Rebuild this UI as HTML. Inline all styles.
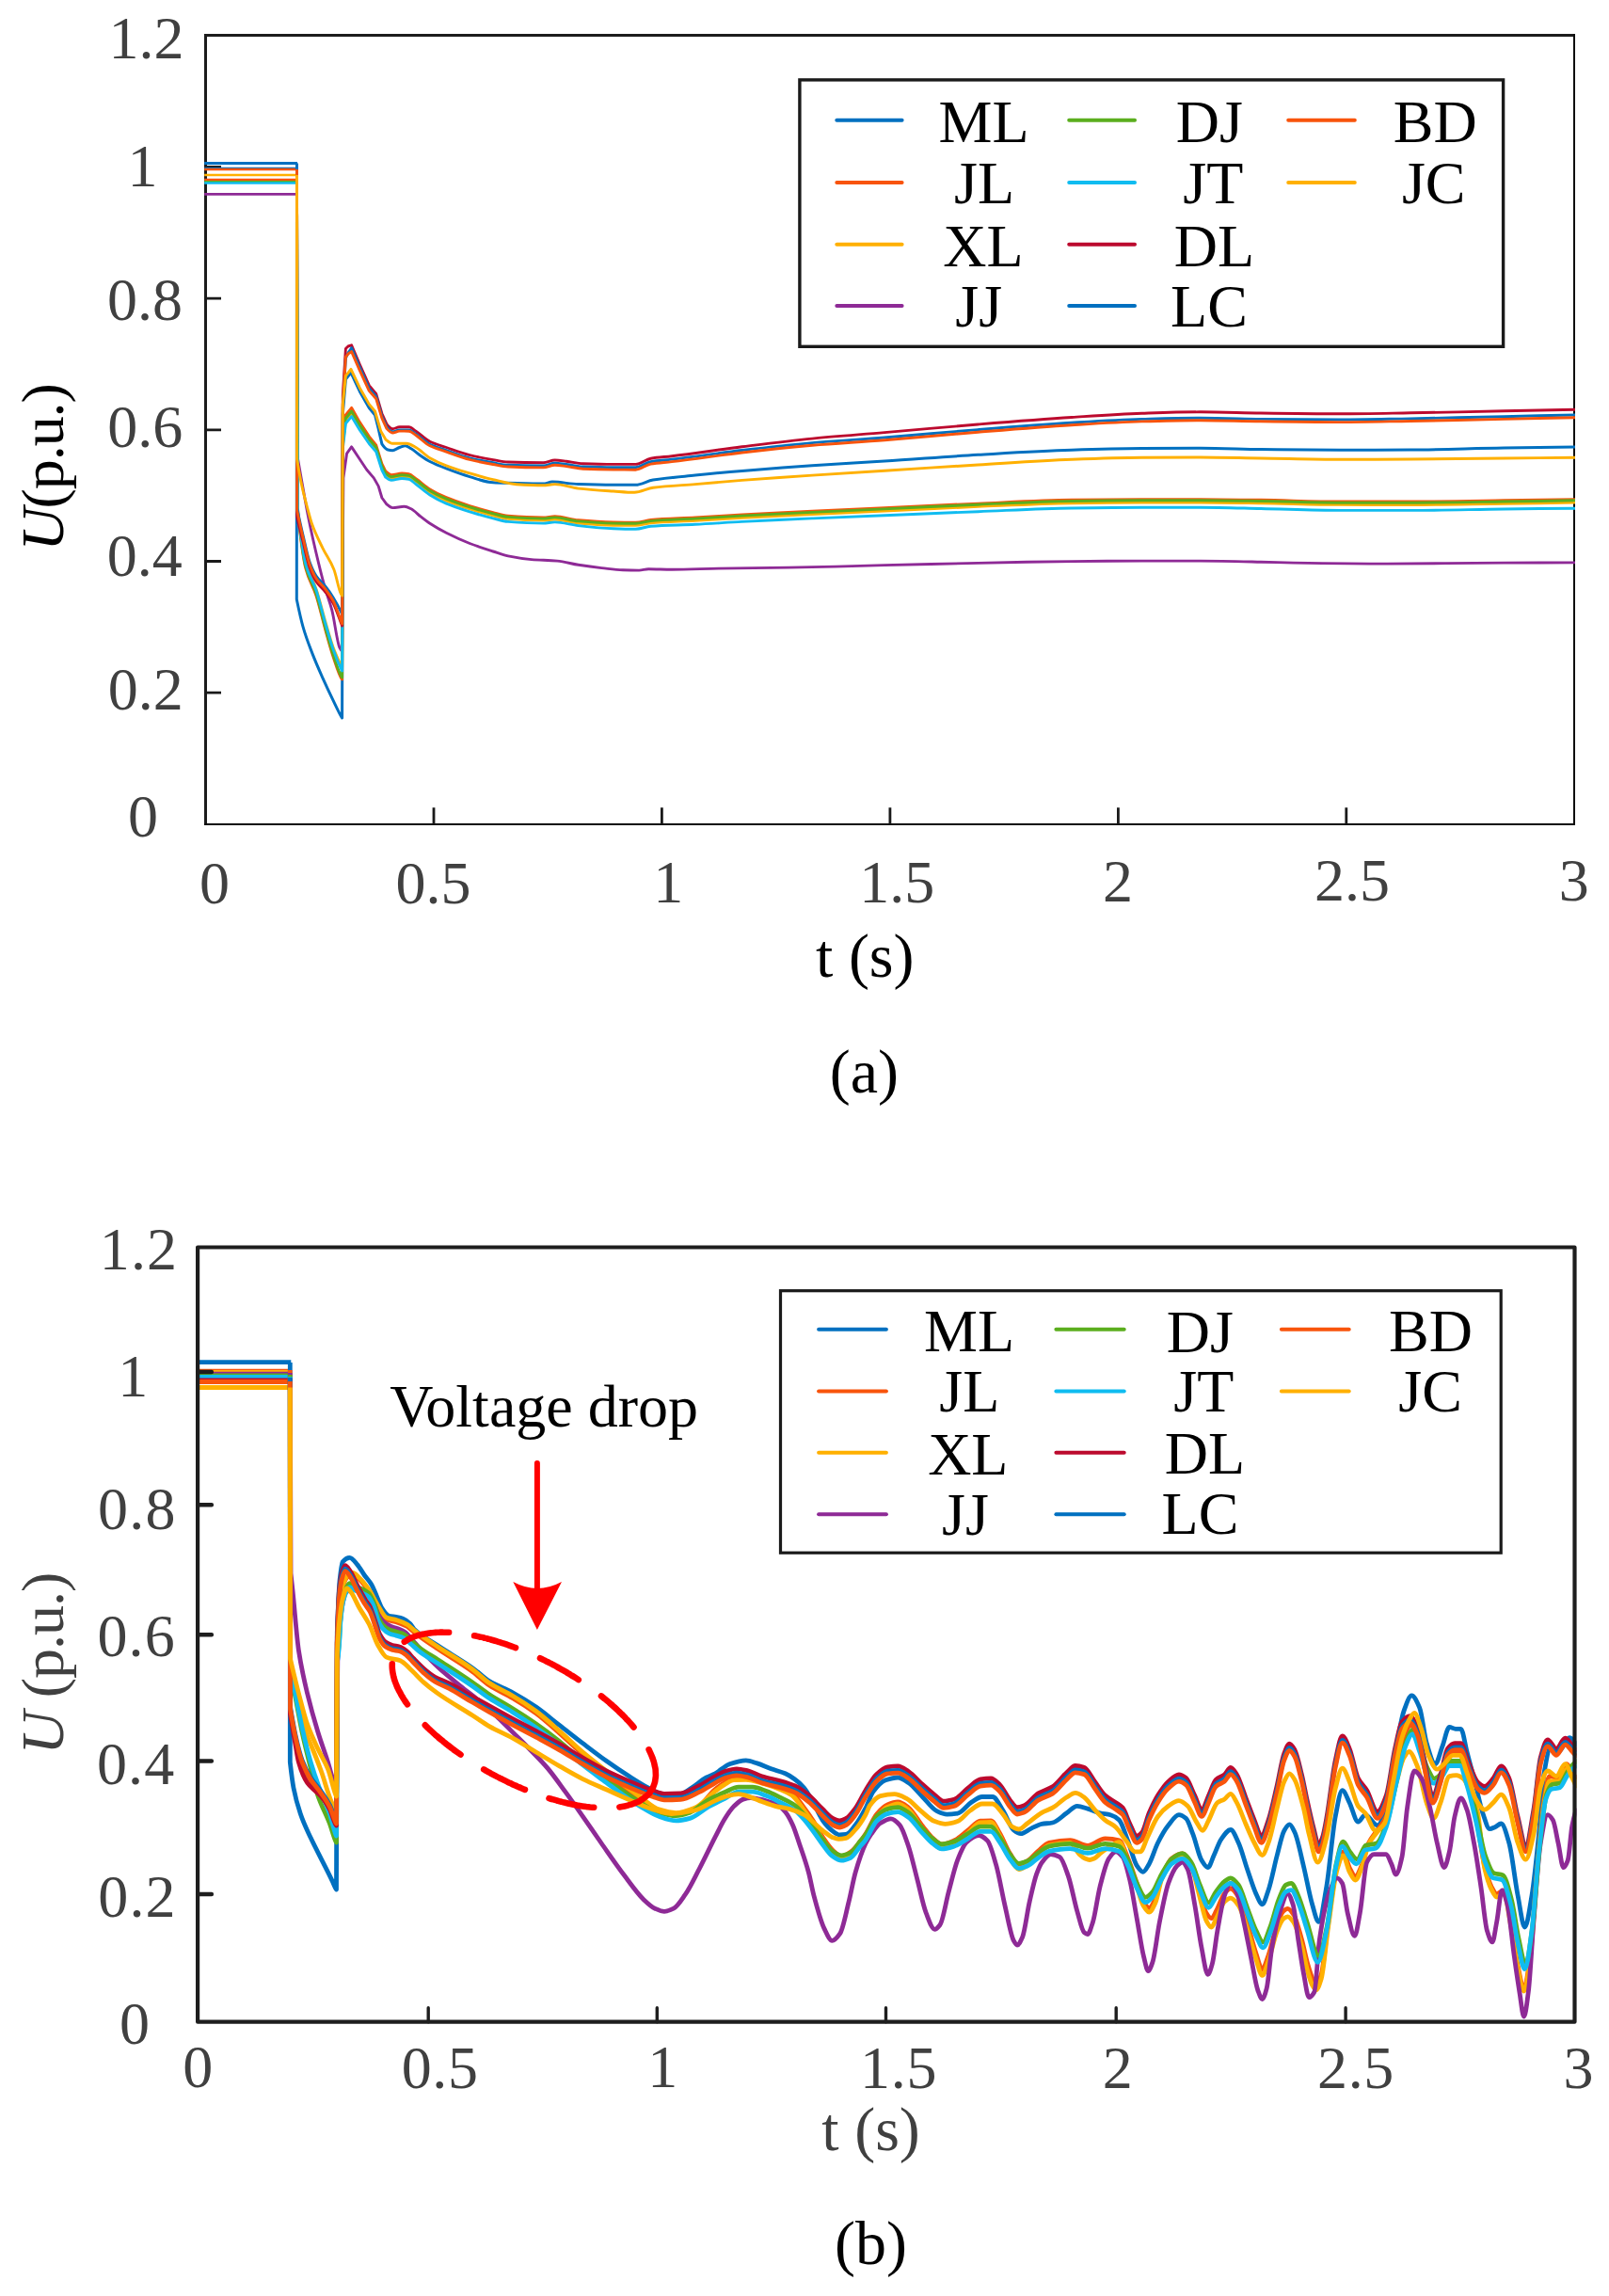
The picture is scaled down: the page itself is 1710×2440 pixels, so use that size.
<!DOCTYPE html>
<html lang="en"><head><meta charset="utf-8"><title>Voltage curves</title><style>html,body{margin:0;padding:0;background:#fff}body{width:1710px;height:2440px;overflow:hidden}</style></head><body>
<svg width="1710" height="2440" viewBox="0 0 1710 2440" style="display:block">
<rect width="1710" height="2440" fill="#fff"/>
<g id="plotA">
<defs><clipPath id="clipA"><rect x="217.1" y="37.8" width="1457.2" height="838"/></clipPath></defs>
<path d="M218.5 877V36M217 37.5H1674" fill="none" stroke="#1c1c1c" stroke-width="3"/>
<path d="M1673 36V877M217 876H1674" fill="none" stroke="#0c0c0c" stroke-width="2"/>
<path d="M461 875.8v-17.5M703.4 875.8v-17.5M945.9 875.8v-17.5M1188.4 875.8v-17.5M1430.8 875.8v-17.5M218.5 736.1h16.5M218.5 596.5h16.5M218.5 456.8h16.5M218.5 317.1h16.5M218.5 177.5h16.5" stroke="#1a1a1a" stroke-width="2.8" fill="none"/>
<g fill="none" stroke-linejoin="round" stroke-linecap="butt" clip-path="url(#clipA)">
<path d="M217.1 173.6H316" stroke="#0070C0" stroke-width="3"/>
<path d="M217.1 178.4H316" stroke="#0070C0" stroke-width="1.4"/>
<path d="M217.1 180H316" stroke="#F8540C" stroke-width="2.3"/>
<path d="M217.1 186H316" stroke="#FFB000" stroke-width="2.3"/>
<path d="M217.1 194.4H316" stroke="#10BCF0" stroke-width="2.9"/>
<path d="M217.1 192.5H316" stroke="#5BAE1E" stroke-width="1.6"/>
<path d="M217.1 190.9H316" stroke="#F8540C" stroke-width="2.2"/>
<path d="M217.1 206.4H316" stroke="#8E2A96" stroke-width="2.7"/>
<path d="M315.5 173.6L315.5 173.6L315.3 637L315.3 637C317.6 648.1 319.8 658.4 322.1 666.3C325.3 677.6 328.6 685.7 331.8 694.1C335.5 703.8 339.3 712.2 343 720.6C346.7 728.9 350.4 736.7 354.1 744.3C357.1 750.5 360.2 757.4 363.2 762.4C363.3 762.6 363.5 762.8 363.6 763L364.3 440L364.3 440L367.4 403L373 396L382.3 415.9L392.3 433.5L398.5 441L402 455L405.9 471.8L405.9 471.8C408 474.9 410.1 477.5 412.2 478C413.8 478.4 415.5 478.7 417.1 478.7C419.6 478.7 422.1 476.4 424.6 475.5C426.7 474.8 428.7 473.7 430.8 473.7C432.9 473.7 434.9 475.6 437 476.8C440.3 478.8 443.7 481.9 447 484.2C450.3 486.5 453.6 488.8 456.9 490.5C462.7 493.5 468.5 495.7 474.3 497.9C482.6 501.1 490.9 504.2 499.2 506.6C507.5 509 515.7 512.4 524 512.8C529.3 513.1 534.7 513.2 540 513.3C552.4 513.6 564.9 514.1 577.3 514.1C580.5 514.1 583.8 512.1 587 512.1C596.2 512.1 605.4 514.3 614.6 514.6C627 515 639.5 515.3 651.9 515.3C659.8 515.3 667.6 515.3 675.5 515.3C681.7 515.3 687.8 511.1 694 510.1C709 507.6 723.9 506.6 738.9 505.1C755.5 503.4 772 501.8 788.6 500.4C813.5 498.3 838.3 496.4 863.2 494.7C888.8 493 914.4 491.7 940 490.1C973.1 488 1006.3 485.2 1039.4 483.3C1072.6 481.4 1105.7 479.3 1138.9 478.3C1163.8 477.5 1188.6 476.8 1213.5 476.6C1234.2 476.4 1254.9 476.3 1275.6 476.3C1297.1 476.3 1318.5 477.3 1340 477.6C1368.1 477.9 1396.2 478.3 1424.3 478.3C1449.2 478.3 1474 478.2 1498.9 478.1C1532 477.9 1565.2 476.6 1598.3 476.1C1623.5 475.7 1648.8 475.4 1674 475.1" stroke="#0070C0" stroke-width="3"/>
<path d="M315.5 190.9L315.5 190.9L316.4 545L316.4 545C319.2 570 322 593.2 324.8 604C328.5 618.4 332.3 621.6 336 633C339.2 642.9 342.5 657.4 345.7 669C348.5 679 351.3 689.7 354.1 698C357.1 706.8 360 717 363 721.3C363.2 721.6 363.4 721.8 363.6 722L364.5 466.5L364.5 466.5L367.4 440.9L373.6 433.3L382.3 448.6L392.3 463.9L399.7 472.9L405.9 493L409.7 500.7L409.7 500.7C411.8 502.6 413.8 504.6 415.9 504.6C419.6 504.6 423.4 503 427.1 503C429.6 503 432 503.3 434.5 503.7C437 504.1 439.5 506.9 442 508.6C447 512.1 451.9 516.9 456.9 519.9C462.7 523.5 468.5 526.3 474.3 528.7C482.6 532.2 490.9 534.9 499.2 537.6C507.5 540.2 515.7 542.5 524 544.6C529.3 546 534.7 547.9 540 548.3C552.4 549.3 564.9 550 577.3 550C581.4 550 585.6 548.8 589.7 548.8C598 548.8 606.3 552.1 614.6 552.8C627 553.9 639.5 554.8 651.9 555C659.8 555.1 667.6 555.2 675.5 555.2C680.9 555.2 686.2 553 691.6 552.5C707.4 551.1 723.1 550.9 738.9 550C755.5 549 772 547.9 788.6 547C813.5 545.6 838.3 544.5 863.2 543.3C888.8 542.1 914.4 541 940 539.8C973.1 538.2 1006.3 536.4 1039.4 535.1C1072.6 533.7 1105.7 531.8 1138.9 531.3C1163.8 531 1188.6 530.6 1213.5 530.6C1234.2 530.6 1254.9 530.6 1275.6 530.6C1297.1 530.6 1318.5 531 1340 531.3C1368.1 531.7 1396.2 533 1424.3 533C1449.2 533 1474 533 1498.9 533C1532 533 1565.2 532.3 1598.3 531.8C1623.5 531.5 1648.8 531 1674 530.6" stroke="#F8540C" stroke-width="2.9"/>
<path d="M315.5 185.9L315.5 185.9L316.4 540L316.4 540C319.2 564.6 322 587.5 324.8 598C328.5 612 332.3 615 336 626C339.2 635.5 342.5 649.5 345.7 660.5C348.5 670 351.3 680.5 354.1 688C357.1 695.9 360 702.6 363 708C363.2 708.4 363.4 708.7 363.6 709L364.5 472L364.5 472L367.4 446.5L373.6 439L382.3 453.9L392.3 468.8L399.7 477.5L405.9 497.4L409.7 504.9L409.7 504.9C411.8 506.7 413.8 508.6 415.9 508.6C419.6 508.6 423.4 506.8 427.1 506.8C429.6 506.8 432 507.1 434.5 507.4C437 507.8 439.5 510.6 442 512.3C447 515.8 451.9 520.5 456.9 523.5C462.7 527 468.5 529.8 474.3 532.2C482.6 535.7 490.9 538.4 499.2 540.9C507.5 543.5 515.7 545.8 524 547.8C529.3 549.2 534.7 551 540 551.4C552.4 552.5 564.9 553.1 577.3 553.1C581.4 553.1 585.6 552 589.7 552C598 552 606.3 555.2 614.6 556C627 557.1 639.5 558 651.9 558.2C659.8 558.3 667.6 558.4 675.5 558.4C680.9 558.4 686.2 556.1 691.6 555.7C707.4 554.3 723.1 554.1 738.9 553.2C755.5 552.3 772 551.1 788.6 550.2C813.5 548.8 838.3 547.7 863.2 546.5C888.8 545.3 914.4 544.2 940 543C973.1 541.5 1006.3 539.7 1039.4 538.4C1072.6 537 1105.7 535.2 1138.9 534.7C1163.8 534.3 1188.6 534 1213.5 534C1234.2 534 1254.9 534 1275.6 534C1297.1 534 1318.5 534.4 1340 534.7C1368.1 535.1 1396.2 536.4 1424.3 536.4C1449.2 536.5 1474 536.5 1498.9 536.5C1532 536.5 1565.2 535.7 1598.3 535.3C1623.5 534.9 1648.8 534.5 1674 534.1" stroke="#FFB000" stroke-width="2.9"/>
<path d="M315.5 206.4L315.5 206.4L316.6 488L316.6 488C318.1 496.4 319.5 504.8 321 513C323.2 525.3 325.4 538.3 327.6 549.2C331.3 567.8 335.1 584.1 338.8 599.4C341.1 608.9 343.4 617.9 345.7 625.9C348 634 350.4 639.3 352.7 648.2C355.5 658.9 358.3 683.2 361.1 688.6C361.9 690.2 362.8 691.5 363.6 692L364.9 507.9L364.9 507.9L368.6 481.8L373.6 474.9L382.3 488L389.8 499.2L397.2 507.9L402.2 516.6L405.9 529L410.9 535.8L410.9 535.8C413 537.6 415 539.6 417.1 539.6C421.3 539.6 425.4 538.3 429.6 538.3C432.1 538.3 434.5 539.6 437 540.8C440.3 542.4 443.7 546.3 447 548.9C450.3 551.5 453.6 554.1 456.9 556.3C462.7 560.1 468.5 563.4 474.3 566.3C482.6 570.5 490.9 574.3 499.2 577.5C507.5 580.7 515.7 583.3 524 586C529.3 587.7 534.7 589.8 540 590.9C548.3 592.6 556.6 593.9 564.9 594.6C574 595.3 583.1 595.3 592.2 596.1C599.7 596.7 607.1 599.1 614.6 600.3C622.9 601.6 631.1 602.7 639.4 603.6C646.9 604.4 654.3 605.6 661.8 605.8C667.6 606 673.4 606.1 679.2 606.1C682.5 606.1 685.9 604.8 689.2 604.8C697.5 604.8 705.7 605.3 714 605.3C730.6 605.3 747.1 604.4 763.7 604.1C788.6 603.7 813.4 603.5 838.3 603.1C854.9 602.8 871.4 602.5 888 602.1C905.3 601.7 922.7 601 940 600.6C973.1 599.8 1006.3 599.1 1039.4 598.4C1072.6 597.7 1105.7 596.9 1138.9 596.6C1163.8 596.4 1188.6 596.1 1213.5 596.1C1234.2 596.1 1254.9 596.1 1275.6 596.1C1297.1 596.1 1318.5 596.7 1340 597.2C1351.5 597.4 1363.1 597.9 1374.6 598.1C1407.7 598.6 1440.9 599.1 1474 599.1C1515.4 599.1 1556.9 598.3 1598.3 598.1C1623.5 598 1648.8 597.9 1674 597.9" stroke="#8E2A96" stroke-width="2.9"/>
<path d="M315.5 192.4L315.5 192.4L316.4 543L316.4 543C319.2 568 322 591.2 324.8 602C328.5 616.4 332.3 619.6 336 631C339.2 640.9 342.5 655.4 345.7 667C348.5 677 351.3 687.7 354.1 696C357.1 704.8 360 714.4 363 719.2C363.2 719.5 363.4 719.7 363.6 720L364.5 470L364.5 470L367.4 444.5L373.6 437L382.3 451.9L392.3 466.8L399.7 475.5L405.9 495.4L409.7 502.9L409.7 502.9C411.8 504.7 413.8 506.6 415.9 506.6C419.6 506.6 423.4 504.8 427.1 504.8C429.6 504.8 432 505 434.5 505.4C437 505.8 439.5 508.6 442 510.3C447 513.7 451.9 518.5 456.9 521.5C462.7 525 468.5 527.8 474.3 530.2C482.6 533.7 490.9 536.3 499.2 538.9C507.5 541.5 515.7 543.8 524 545.8C529.3 547.1 534.7 549 540 549.4C552.4 550.4 564.9 551.1 577.3 551.1C581.4 551.1 585.6 549.9 589.7 549.9C598 549.9 606.3 553.2 614.6 553.9C627 555 639.5 555.9 651.9 556.1C659.8 556.2 667.6 556.3 675.5 556.3C680.9 556.3 686.2 554.1 691.6 553.6C707.4 552.2 723.1 552 738.9 551.1C755.5 550.2 772 549 788.6 548.1C813.5 546.7 838.3 545.6 863.2 544.4C888.8 543.2 914.4 542.1 940 540.9C973.1 539.4 1006.3 537.6 1039.4 536.2C1072.6 534.8 1105.7 533 1138.9 532.5C1163.8 532.1 1188.6 531.8 1213.5 531.8C1234.2 531.8 1254.9 531.8 1275.6 531.8C1297.1 531.8 1318.5 532.2 1340 532.5C1368.1 532.9 1396.2 534.2 1424.3 534.2C1449.2 534.2 1474 534.2 1498.9 534.2C1532 534.2 1565.2 533.5 1598.3 533C1623.5 532.7 1648.8 532.2 1674 531.8" stroke="#5BAE1E" stroke-width="2.9"/>
<path d="M315.5 194.6L315.5 194.6L316.4 540.8L316.4 540.8C319.2 565.7 322 588.9 324.8 599.4C328.5 613.4 332.3 616.2 336 627.2C339.2 636.7 342.5 650.9 345.7 662.1C348.5 671.8 351.3 682 354.1 690C356.9 698 359.7 705 362.5 710.9C362.9 711.7 363.2 712.3 363.6 713L364.5 475L364.5 475L367.4 450L373.6 442.6L382.3 457L392.3 471.5L399.7 480L405.9 499.5L409.7 507L409.7 507C411.8 508.6 413.8 510.3 415.9 510.3C419.6 510.3 423.4 508.5 427.1 508.5C429.6 508.5 432 508.8 434.5 509.2C437 509.6 439.5 512.7 442 514.5C447 518.1 451.9 522.9 456.9 526C462.7 529.7 468.5 532.7 474.3 535.2C482.6 538.7 490.9 541.3 499.2 543.9C507.5 546.5 515.7 548.8 524 550.8C529.3 552.1 534.7 554 540 554.4C552.4 555.4 564.9 556.1 577.3 556.1C581.4 556.1 585.6 554.9 589.7 554.9C598 554.9 606.3 557.7 614.6 558.6C627 560 639.5 561.4 651.9 561.8C659.8 562.1 667.6 562.3 675.5 562.3C680.9 562.3 686.2 559.7 691.6 559.3C707.4 558.1 723.1 558.1 738.9 557.3C755.5 556.5 772 555.3 788.6 554.4C813.5 553.1 838.3 552 863.2 550.9C888.8 549.8 914.4 548.7 940 547.7C973.1 546.3 1006.3 545 1039.4 543.7C1072.6 542.4 1105.7 540.5 1138.9 540C1163.8 539.6 1188.6 539.2 1213.5 539.2C1234.2 539.2 1254.9 539.2 1275.6 539.2C1297.1 539.2 1318.5 540 1340 540.5C1368.1 541.1 1396.2 542.4 1424.3 542.4C1449.2 542.4 1474 542.4 1498.9 542.4C1532 542.4 1565.2 541.4 1598.3 541C1623.5 540.7 1648.8 540.4 1674 540.2" stroke="#10BCF0" stroke-width="2.9"/>
<path d="M315.5 180.5L315.5 180.5L315.6 549L315.6 549C317.8 558.3 319.9 567.3 322.1 576C324.4 585.3 326.7 596.6 329 603C331.3 609.5 333.7 614.5 336 618C339.2 622.9 342.5 624.9 345.7 629C348.5 632.5 351.3 635.9 354.1 641C357.1 646.5 360.2 656.4 363.2 664C363.3 664.3 363.5 664.7 363.6 665L364.3 420L364.3 420L367.4 370.5L370 368L373.6 366.8L382.3 387.3L392.3 409.7L399.7 418.4L405.9 439.5L410.9 450.7L410.9 450.7C413 453.4 415 455.7 417.1 455.7C419.6 455.7 422.1 453.8 424.6 453.8C427.9 453.8 431.2 453.8 434.5 453.8C437 453.8 439.5 456.5 442 458.1C447 461.3 451.9 466.9 456.9 469.3C462.7 472.1 468.5 473.5 474.3 475.5C482.6 478.3 490.9 481.5 499.2 483.6C507.5 485.7 515.7 487.2 524 488.6C529.3 489.5 534.7 490.8 540 491C552.4 491.5 564.9 491.7 577.3 491.7C581.4 491.7 585.6 489 589.7 489C593.8 489 597.9 489.7 602 490.2C607.9 490.9 613.7 492.5 619.6 492.7C630.4 493.1 641.1 493.4 651.9 493.4C659.8 493.4 667.6 493.4 675.5 493.4C680.9 493.4 686.2 488.2 691.6 487.2C699.1 485.9 706.5 485.6 714 484.7C738.9 481.7 763.7 477.9 788.6 474.8C813.5 471.7 838.3 468.5 863.2 466.1C888.8 463.6 914.4 461.8 940 459.6C973.1 456.8 1006.3 453.7 1039.4 451C1072.6 448.3 1105.7 445.6 1138.9 443.5C1163.8 441.9 1188.6 440.1 1213.5 439.3C1234.2 438.6 1254.9 437.8 1275.6 437.8C1297.1 437.8 1318.5 438.7 1340 439C1368.1 439.4 1396.2 439.8 1424.3 439.8C1449.2 439.8 1474 439.2 1498.9 438.8C1532 438.3 1565.2 437.5 1598.3 436.8C1623.5 436.3 1648.8 435.8 1674 435.3" stroke="#BC0A2E" stroke-width="2.9"/>
<path d="M315.5 178.3L315.5 178.3L315.6 540L315.6 540C317.8 550.1 319.9 559.8 322.1 569C324.4 578.8 326.7 590.5 329 597C331.3 603.5 333.7 608.5 336 612C339.2 616.9 342.5 618.9 345.7 623C348.5 626.5 351.3 630.5 354.1 635C357.1 639.9 360.2 645.2 363.2 652C363.3 652.3 363.5 652.7 363.6 653L364.3 433.7L364.3 433.7L367.4 380.6L370 375.1L373.6 369.8L382.3 390.3L392.3 412.7L399.7 421.4L405.9 442.5L410.9 453.7L410.9 453.7C413 456.4 415 458.8 417.1 458.8C419.6 458.8 422.1 456.9 424.6 456.9C427.9 456.9 431.2 456.9 434.5 456.9C437 456.9 439.5 459.6 442 461.2C447 464.4 451.9 470 456.9 472.4C462.7 475.2 468.5 476.6 474.3 478.6C482.6 481.5 490.9 484.7 499.2 486.8C507.5 488.8 515.7 490.4 524 491.8C529.3 492.7 534.7 494 540 494.2C552.4 494.7 564.9 494.9 577.3 494.9C581.4 494.9 585.6 492.2 589.7 492.2C593.8 492.2 597.9 493 602 493.4C607.9 494.1 613.7 495.7 619.6 496C630.4 496.4 641.1 496.7 651.9 496.7C659.8 496.7 667.6 496.7 675.5 496.7C680.9 496.7 686.2 491.5 691.6 490.6C699.1 489.3 706.5 489 714 488.1C738.9 485.3 763.7 481.4 788.6 478.5C813.5 475.6 838.3 472.8 863.2 470.6C888.8 468.4 914.4 467 940 465C973.1 462.4 1006.3 459.2 1039.4 456.6C1072.6 453.9 1105.7 451.2 1138.9 449.2C1163.8 447.7 1188.6 446.1 1213.5 445.4C1234.2 444.9 1254.9 444.3 1275.6 444.3C1297.1 444.3 1318.5 445.1 1340 445.4C1368.1 445.7 1396.2 446 1424.3 446C1449.2 446 1474 445.3 1498.9 444.9C1532 444.3 1565.2 443.4 1598.3 442.7C1623.5 442.1 1648.8 441.5 1674 441" stroke="#0070C0" stroke-width="2.9"/>
<path d="M315.5 179.9L315.5 179.9L315.6 542.2L315.6 542.2C317.8 552.5 319.9 562.3 322.1 571.5C324.4 581.3 326.7 592.9 329 599.4C331.3 606 333.7 611.1 336 614.7C339.2 619.7 342.5 621.7 345.7 625.9C348.5 629.6 351.3 633.1 354.1 638.4C357.1 644.1 360.2 654.9 363.2 662.1C363.3 662.4 363.5 662.7 363.6 663L364.3 429.9L364.3 429.9L367.4 379.4L370 376L373.6 373.6L382.3 393.6L392.3 415.4L399.7 423.7L405.9 444.4L410.9 455.4L410.9 455.4C413 457.8 415 460 417.1 460C419.6 460 422.1 458.1 424.6 458.1C427.9 458.1 431.2 458.2 434.5 458.2C437 458.2 439.5 460.9 442 462.5C447 465.8 451.9 471.4 456.9 473.8C462.7 476.7 468.5 478.1 474.3 480.1C482.6 483 490.9 486.3 499.2 488.4C507.5 490.5 515.7 492.1 524 493.5C529.3 494.4 534.7 495.7 540 496C552.4 496.6 564.9 496.9 577.3 496.9C581.4 496.9 585.6 494.3 589.7 494.3C593.8 494.3 597.9 495.1 602 495.6C607.9 496.3 613.7 497.9 619.6 498.2C630.4 498.7 641.1 499 651.9 499.1C659.8 499.1 667.6 499.2 675.5 499.2C680.9 499.2 686.2 494 691.6 493.1C699.1 491.8 706.5 491.5 714 490.6C738.9 487.8 763.7 483.9 788.6 481C813.5 478.1 838.3 475.4 863.2 473.2C888.8 471.1 914.4 469.7 940 467.7C973.1 465.1 1006.3 461.8 1039.4 459.2C1072.6 456.5 1105.7 453.7 1138.9 451.7C1163.8 450.2 1188.6 448.6 1213.5 447.9C1234.2 447.3 1254.9 446.7 1275.6 446.7C1297.1 446.7 1318.5 447.6 1340 447.8C1368.1 448.2 1396.2 448.6 1424.3 448.6C1449.2 448.6 1474 447.9 1498.9 447.5C1532 446.9 1565.2 446.1 1598.3 445.4C1623.5 444.8 1648.8 444.3 1674 443.8" stroke="#F8540C" stroke-width="2.9"/>
<path d="M315.5 186L315.5 186L315.6 488L315.6 488C317.3 498.4 319 507.8 320.7 515.7C322.5 524.2 324.4 531.1 326.2 538C328.1 545 329.9 552.4 331.8 557.6C335.5 568 339.3 574.9 343 582.6C346.9 590.7 350.9 595.2 354.8 605C357.4 611.4 359.9 626.6 362.5 631.4C362.9 632.1 363.2 632.6 363.6 633L364.3 430L364.3 430L367.4 399.7L373 392.3L382.3 412.2L392.3 429.6L398.5 437L404.7 458.1L409.7 466.8L409.7 466.8C412.2 468.8 414.6 471.2 417.1 471.2C422.1 471.2 427 471.2 432 471.2C435.3 471.2 438.7 473.7 442 475.5C447 478.2 451.9 483.8 456.9 486.7C462.7 490.1 468.5 492.6 474.3 494.8C482.6 498 490.9 500.4 499.2 502.9C507.5 505.4 515.7 507.8 524 509.7C532.3 511.6 540.6 514.2 548.9 514.7C558.4 515.3 567.8 515.8 577.3 515.8C581.4 515.8 585.6 514.6 589.7 514.6C598 514.6 606.3 518.2 614.6 519.1C627 520.5 639.5 521.2 651.9 522C659.3 522.5 666.8 523.3 674.2 523.3C680.8 523.3 687.4 519.2 694 518.3C709 516.3 723.9 515.8 738.9 514.6C755.5 513.2 772 511.7 788.6 510.4C813.5 508.5 838.3 506.8 863.2 505.1C888.8 503.4 914.4 501.8 940 500.2C973.1 498.1 1006.3 496 1039.4 494C1072.6 492 1105.7 489.5 1138.9 488.3C1163.8 487.4 1188.6 486.5 1213.5 486.3C1234.2 486.1 1254.9 486 1275.6 486C1297.1 486 1318.5 486.7 1340 487C1368.1 487.4 1396.2 488.3 1424.3 488.3C1449.2 488.3 1474 488.1 1498.9 488C1532 487.8 1565.2 487.3 1598.3 487C1623.5 486.8 1648.8 486.5 1674 486.3" stroke="#FFB000" stroke-width="2.9"/>
</g>
<g font-family="'Liberation Serif','Times New Roman',serif" fill="#000">
<text transform="translate(67,585.5) rotate(-90)" font-size="64" letter-spacing="-1.1"><tspan font-style="italic">U</tspan>(p.u.)</text>
</g>
<rect x="849.9" y="84.9" width="747.7" height="283.4" fill="#fff" stroke="#1a1a1a" stroke-width="3.4"/>
<g stroke-linecap="round" stroke-width="4" fill="none">
<path d="M889.3 127.8H958.6" stroke="#0070C0"/>
<path d="M889.3 193.9H958.6" stroke="#F8540C"/>
<path d="M889.3 259.8H958.6" stroke="#FFB000"/>
<path d="M889.3 325.1H958.6" stroke="#8E2A96"/>
<path d="M1136.2 127.8H1206" stroke="#5BAE1E"/>
<path d="M1136.2 193.9H1206" stroke="#10BCF0"/>
<path d="M1136.2 259.8H1206" stroke="#BC0A2E"/>
<path d="M1136.2 325.1H1206" stroke="#0070C0"/>
<path d="M1369.2 127.8H1439.8" stroke="#F8540C"/>
<path d="M1369.2 193.9H1439.8" stroke="#FFB000"/>
</g>
</g>
<g id="plotB">
<defs><clipPath id="clipB"><rect x="210.1" y="1325.5" width="1465.4" height="823.2"/></clipPath></defs>
<g fill="none" stroke-linejoin="round" stroke-linecap="butt" clip-path="url(#clipB)">
<path d="M210.1 1447.6H309.3" stroke="#0070C0" stroke-width="4.8"/>
<path d="M210.1 1456H309.3" stroke="#F8540C" stroke-width="2.4"/>
<path d="M210.1 1457.2H309.3" stroke="#FFB000" stroke-width="2.4"/>
<path d="M210.1 1458.9H309.3" stroke="#8E2A96" stroke-width="2.4"/>
<path d="M210.1 1460.6H309.3" stroke="#5BAE1E" stroke-width="2"/>
<path d="M210.1 1463H309.3" stroke="#10BCF0" stroke-width="4.2"/>
<path d="M210.1 1465.4H309.3" stroke="#BC0A2E" stroke-width="1.6"/>
<path d="M210.1 1468.4H309.3" stroke="#F8540C" stroke-width="5"/>
<path d="M210.1 1474.5H309.3" stroke="#FFB000" stroke-width="5"/>
<path d="M308.3 1447.9L308.3 1447.9L308.3 1872.7L308.3 1872.7C309.5 1883.3 310.8 1893.7 312 1900.1C314.4 1912.7 316.9 1920.4 319.3 1927.5C322.9 1938.2 326.6 1945.2 330.2 1953.1C333.9 1961 337.5 1967.8 341.2 1975.1C345.2 1983 349.1 1990.5 353.1 1998.9C354.3 2001.5 355.6 2005 356.8 2007C357 2007.4 357.3 2007.7 357.5 2008L358.3 1735L358.3 1735C359.2 1710.9 360.1 1688.8 361 1680C362.1 1669.6 363.1 1661.1 364.2 1659.8C366.7 1656.8 369.1 1655.4 371.6 1655.4C374.3 1655.4 377.1 1659.7 379.8 1662.8C382.3 1665.6 384.8 1670.5 387.3 1674C389.8 1677.4 392.2 1679.6 394.7 1683.7C396.7 1687 398.7 1692.6 400.7 1697.1C402.4 1701 404.2 1706.4 405.9 1709C408.4 1712.8 410.9 1716.5 413.4 1717.2C415.9 1717.9 418.3 1717.9 420.8 1718.4C423.3 1718.9 425.8 1719.3 428.3 1720.2C430.8 1721.1 433.3 1723.1 435.8 1725.5C437.2 1726.8 438.6 1729.8 440 1731.2C448.3 1739.5 456.6 1743 464.9 1748.6C477.3 1757 489.8 1763.7 502.2 1772.6C508.1 1776.8 514.1 1782.9 520 1786.5C528.3 1791.6 536.6 1794.2 544.9 1798.8C553.2 1803.3 561.4 1808.4 569.7 1814.1C578 1819.8 586.3 1827 594.6 1833.4C602.9 1839.8 611.1 1846.4 619.4 1852.7C627.7 1859 636 1865.4 644.3 1871.3C652.6 1877.2 660.9 1882.8 669.2 1888.1C675.4 1892 681.6 1896.1 687.8 1899.3C693 1902 698.3 1906.5 703.5 1906.5C710 1906.5 716.5 1906.5 723 1906.5C727 1906.5 731 1902.4 735 1900C740.3 1896.8 745.5 1891.7 750.8 1888.9C753.9 1887.3 756.9 1886.4 760 1884.8C765 1882.2 769.9 1876.6 774.9 1874.9C780.9 1872.9 786.8 1870.9 792.8 1870.9C796.8 1870.9 800.7 1872.7 804.7 1873.9C809.7 1875.4 814.6 1878 819.6 1879.8C824.6 1881.6 829.6 1882.6 834.6 1884.8C837.9 1886.2 841.2 1888.4 844.5 1890.8C847.8 1893.2 851.1 1895.9 854.4 1899.7C857.6 1903.4 860.8 1909.5 864 1915C867.4 1920.9 870.9 1929.8 874.3 1934.5C877.6 1939.1 881 1942.9 884.3 1945.4C886.9 1947.3 889.6 1949.9 892.2 1949.9C894.5 1949.9 896.9 1949.7 899.2 1949.4C902.5 1949 905.8 1943.6 909.1 1939.5C912.7 1935 916.3 1928.4 919.9 1921.6C922.6 1916.4 925.4 1907.5 928.1 1903.9C932.5 1898.1 936.8 1893.3 941.2 1891.8C945.6 1890.3 949.9 1889 954.3 1889C958 1889 961.7 1892.2 965.4 1894.6C970.4 1897.9 975.4 1904.5 980.4 1909.5C985.4 1914.5 990.3 1922 995.3 1924.4C999 1926.2 1002.8 1928.1 1006.5 1928.1C1010.2 1928.1 1014 1927.7 1017.7 1927.2C1022.7 1926.5 1027.6 1918.1 1032.6 1915.1C1036.3 1912.8 1040.1 1909.5 1043.8 1909.5C1047.5 1909.5 1051.2 1909.5 1054.9 1909.5C1058.6 1909.5 1062.4 1918.6 1066.1 1924.4C1069.8 1930.2 1073.6 1942 1077.3 1944.9C1079.8 1946.8 1082.3 1948.7 1084.8 1948.7C1088.5 1948.7 1092.3 1944.8 1096 1943.1C1099.7 1941.4 1103.5 1939.1 1107.2 1938.4C1111 1937.7 1114.8 1937.8 1118.6 1937C1123.6 1936 1128.6 1930.2 1133.6 1926.8C1137.3 1924.3 1141.1 1919.3 1144.8 1919.3C1148.5 1919.3 1152.2 1921 1155.9 1922.1C1160.3 1923.4 1164.6 1925.8 1169 1926.8C1172.7 1927.7 1176.5 1927.7 1180.2 1928.7C1183.3 1929.5 1186.4 1931.3 1189.5 1934.3C1192.6 1937.3 1195.7 1948.6 1198.8 1956.6C1201.9 1964.7 1205.1 1978.2 1208.2 1982.7C1210.4 1985.8 1212.5 1989.3 1214.7 1989.3C1216.9 1989.3 1219 1984.5 1221.2 1980.9C1224.3 1975.8 1227.4 1964.6 1230.5 1958.5C1234.2 1951.1 1238 1944.4 1241.7 1939.8C1245.4 1935.2 1249.2 1928.7 1252.9 1928.7C1255.4 1928.7 1257.9 1930.4 1260.4 1932.4C1262.9 1934.4 1265.3 1942.9 1267.8 1949.2C1270.9 1957.2 1274 1972.1 1277.1 1977.1C1279.3 1980.6 1281.5 1984.6 1283.7 1984.6C1285.9 1984.6 1288 1976.1 1290.2 1971.5C1292.7 1966.2 1295.2 1958.3 1297.7 1954.8C1301.1 1950 1304.5 1944.5 1307.9 1944.5C1310.7 1944.5 1313.5 1952.5 1316.3 1958.5C1319.4 1965.1 1322.5 1977.5 1325.6 1986.5C1328.7 1995.5 1331.8 2006.1 1334.9 2012.6C1337.1 2017.2 1339.3 2023.8 1341.5 2023.8C1343.7 2023.8 1345.8 2015 1348 2008.8C1351.1 1999.9 1354.2 1983 1357.3 1971.5C1359.8 1962.2 1362.3 1949.6 1364.8 1945.4C1366.7 1942.2 1368.5 1938.9 1370.4 1938.9C1372.3 1938.9 1374.1 1943.4 1376 1947.3C1379.1 1953.7 1382.2 1970 1385.3 1982.7C1388.4 1995.4 1391.5 2013.5 1394.6 2023.8C1396.9 2031.4 1399.1 2042.4 1401.4 2042.4C1404.2 2042.4 1407 2021 1409.8 2005.1C1412.9 1987.4 1416.1 1946.3 1419.2 1930.5C1421.7 1918.1 1424.1 1902.6 1426.6 1902.6C1429.1 1902.6 1431.6 1910.8 1434.1 1915.6C1437.2 1921.6 1440.3 1936.1 1443.4 1936.1C1445.9 1936.1 1448.4 1928.7 1450.9 1928.7C1455.2 1928.7 1459.6 1939.8 1463.9 1939.8C1467 1939.8 1470.1 1930.5 1473.2 1921.2C1476.3 1911.8 1479.5 1882.4 1482.6 1865.3C1485.7 1848.4 1488.8 1827.4 1491.9 1818.6C1494.7 1810.7 1497.5 1801.9 1500.3 1801.9C1503.1 1801.9 1505.9 1808.2 1508.7 1814.9C1511.2 1820.8 1513.6 1844.1 1516.1 1852.2C1519.2 1862.4 1522.3 1874.6 1525.4 1874.6C1527.9 1874.6 1530.4 1862.4 1532.9 1855.9C1535.4 1849.4 1537.9 1835.4 1540.4 1835.4C1542.6 1835.4 1544.7 1837.3 1546.9 1837.3C1548.8 1837.3 1550.6 1837.3 1552.5 1837.3C1554.7 1837.3 1556.8 1853.3 1559 1861.5C1562.1 1873.2 1565.2 1884.9 1568.3 1897C1570.8 1906.7 1573.3 1919.6 1575.8 1926.8C1578.3 1933.9 1580.7 1943.6 1583.2 1943.6C1585.1 1943.6 1586.9 1942.5 1588.8 1941.7C1591 1940.8 1593.2 1938 1595.4 1938C1598.2 1938 1601 1948.8 1603.8 1958.5C1606.9 1969.2 1610 1998.4 1613.1 2014.4C1615.6 2027.1 1618 2048 1620.5 2048C1623 2048 1625.5 2029.2 1628 2014.4C1630.5 1999.6 1633 1974.3 1635.5 1949.2C1637.4 1930.5 1639.2 1894.8 1641.1 1883.9C1643.6 1869.5 1646 1855.9 1648.5 1855.9C1651 1855.9 1653.5 1862 1656 1862C1660 1862 1664.1 1846.6 1668.1 1846.6C1670.7 1846.6 1673.4 1850.3 1676 1856" stroke="#0070C0" stroke-width="4.8"/>
<path d="M308.3 1456L308.3 1456L308.5 1817L308.5 1817C310.3 1828.2 312 1838.5 313.8 1846.5C316.2 1857.5 318.7 1867.6 321.1 1874C324.1 1882 327.2 1887.2 330.2 1892C333.9 1897.8 337.5 1901.2 341.2 1906.5C344.3 1910.9 347.3 1914.9 350.4 1921C352.5 1925.2 354.7 1932.6 356.8 1937.5C357 1938 357.3 1938.5 357.5 1939L358.3 1746L358.3 1746C359.2 1726.3 360.1 1707.7 361 1701.1C362.2 1692.5 363.3 1688.4 364.5 1685.2C366 1681 367.5 1677.6 369 1676.3C371 1674.5 373 1672.9 375 1672.9C377 1672.9 379 1675.7 381 1677.5C384.8 1681.1 388.6 1685.9 392.4 1691.5C395.5 1696 398.5 1703.3 401.6 1708.2C404.6 1713 407.7 1719.7 410.7 1721.1C414.4 1722.7 418 1722.8 421.7 1723.9C425.4 1725.1 429 1726.4 432.7 1728.5C435.1 1729.9 437.6 1732.7 440 1734.5C448.3 1741 456.6 1746.5 464.9 1752.1C477.3 1760.6 489.8 1767.3 502.2 1776.5C508.1 1780.8 514.1 1787.1 520 1791C528.3 1796.5 536.6 1799.7 544.9 1804.7C553.2 1809.6 561.4 1814.8 569.7 1820.8C578 1826.9 586.3 1834.6 594.6 1841.9C602.9 1849.1 611.1 1857.3 619.4 1864.2C627.7 1871.3 636 1877.5 644.3 1884.1C650.5 1889.1 656.7 1894.2 662.9 1899C669.1 1903.7 675.4 1908.3 681.6 1912.6C687.8 1917 694 1923.1 700.2 1925C706.3 1926.9 712.3 1928.7 718.4 1928.7C725 1928.7 731.7 1926.1 738.3 1923.3C745.5 1920.3 752.8 1907.6 760 1901.7C763.3 1899 766.6 1896.6 769.9 1894.6C773.2 1892.6 776.6 1889.8 779.9 1889.6C784.2 1889.2 788.5 1889.1 792.8 1889.1C799.5 1889.1 806.2 1891.8 812.9 1893.7C818.6 1895.2 824.3 1897.2 830 1899.6C833.8 1901.1 837.7 1902.5 841.5 1905.2C845.8 1908.2 850.1 1915.3 854.4 1921C857.7 1925.4 861.1 1930.2 864.4 1935.4C867.9 1940.8 871.5 1948.1 875 1953.3C878.3 1958.2 881.7 1963.3 885 1966.2C888.2 1969.1 891.4 1972.7 894.6 1972.7C897.8 1972.7 900.9 1970.2 904.1 1968.1C907.4 1965.9 910.8 1961.2 914.1 1957.1C916 1954.7 918 1952 919.9 1949C923.9 1942.9 927.9 1932.4 931.9 1927.7C935.6 1923.4 939.4 1919.6 943.1 1918C946.8 1916.4 950.6 1914.9 954.3 1914.9C958 1914.9 961.7 1918.1 965.4 1920.9C970.4 1924.7 975.4 1934.4 980.4 1940.6C984.1 1945.1 987.8 1950.5 991.5 1953.6C994.6 1956.2 997.8 1959.8 1000.9 1959.8C1005.2 1959.8 1009.6 1957.8 1013.9 1956C1018.9 1953.9 1023.8 1948.7 1028.8 1945C1033.2 1941.8 1037.5 1935.5 1041.9 1935.2C1045.6 1935 1049.4 1934.8 1053.1 1934.8C1056.2 1934.8 1059.3 1943 1062.4 1948.1C1066.1 1954.2 1069.9 1964.7 1073.6 1970.2C1076.7 1974.8 1079.8 1981.2 1082.9 1981.2C1086 1981.2 1089.1 1979.2 1092.2 1977.5C1095.9 1975.5 1099.7 1970.1 1103.4 1967C1107.2 1963.8 1111.1 1959.1 1114.9 1958.3C1122.4 1956.6 1129.8 1955.6 1137.3 1955.6C1143.5 1955.6 1149.7 1961.3 1155.9 1961.3C1162.1 1961.3 1168.4 1953.9 1174.6 1953.9C1179.6 1953.9 1184.5 1954.5 1189.5 1955.9C1192.6 1956.8 1195.7 1967.7 1198.8 1975C1201.9 1982.4 1205.1 1992.3 1208.2 2001C1210.5 2007.3 1212.7 2016.2 1215 2020C1217.1 2023.5 1219.1 2027.5 1221.2 2027.5C1223.5 2027.5 1225.7 2022.5 1228 2018C1230.1 2013.8 1232.2 2001.3 1234.3 1996C1238 1986.7 1241.7 1977.7 1245.4 1975C1249.1 1972.3 1252.9 1970 1256.6 1970C1259.7 1970 1262.9 1975.5 1266 1981C1269.1 1986.4 1272.2 2002.6 1275.3 2012.5C1277.5 2019.7 1279.8 2029.6 1282 2033C1283.8 2035.8 1285.6 2038.7 1287.4 2038.7C1289.3 2038.7 1291.1 2033.3 1293 2030C1295.8 2025 1298.6 2015.1 1301.4 2012C1303.6 2009.6 1305.7 2007 1307.9 2007C1310.7 2007 1313.5 2011.6 1316.3 2016C1319.4 2020.9 1322.5 2034 1325.6 2044C1328.7 2054 1331.8 2067 1334.9 2076C1337.1 2082.4 1339.3 2092.7 1341.5 2092.7C1343.7 2092.7 1345.8 2083.9 1348 2078C1351.1 2069.5 1354.2 2053 1357.3 2045C1359.5 2039.2 1361.8 2032.9 1364 2031C1365.5 2029.7 1367 2028.4 1368.5 2028.4C1370.7 2028.4 1372.8 2031.8 1375 2035C1377.8 2039.2 1380.6 2051.1 1383.4 2061C1385.6 2068.8 1387.8 2080.4 1390 2088C1391.5 2093.3 1393.1 2098.5 1394.6 2102C1395.9 2105.1 1397.3 2109.5 1398.6 2109.5C1400.5 2109.5 1402.3 2104 1404.2 2098.3C1406.7 2090.6 1409.2 2059.7 1411.7 2042.4C1414.8 2021 1417.9 1992.9 1421 1982.7C1423.2 1975.6 1425.3 1967.8 1427.5 1967.8C1429.7 1967.8 1431.9 1980.6 1434.1 1984.6C1436.3 1988.6 1438.4 1993.9 1440.6 1993.9C1442.8 1993.9 1444.9 1987.5 1447.1 1982.7C1449.6 1977.1 1452.1 1963.6 1454.6 1958.5C1457.1 1953.4 1459.5 1951 1462 1947.3C1465.7 1941.7 1469.5 1938.7 1473.2 1930.5C1476.9 1922.3 1480.7 1900.9 1484.4 1883.9C1486.9 1872.5 1489.4 1853.1 1491.9 1846.6C1494.4 1840.2 1496.8 1833.6 1499.3 1833.6C1501.8 1833.6 1504.3 1839.9 1506.8 1846C1509.3 1852.1 1511.8 1869.9 1514.3 1881C1517.1 1893.3 1519.8 1916 1522.6 1916C1525.4 1916 1528.2 1902.6 1531 1894C1533.5 1886.3 1536 1868.8 1538.5 1866C1541 1863.2 1543.5 1861 1546 1861C1548.2 1861 1550.3 1861 1552.5 1861C1555.3 1861 1558.1 1874.3 1560.9 1885C1563.4 1894.4 1565.8 1912.5 1568.3 1926.8C1571.4 1944.9 1574.6 1970.3 1577.7 1982.7C1580.2 1992.5 1582.6 2000.6 1585.1 2005.1C1587 2008.5 1588.8 2012.6 1590.7 2012.6C1593.2 2012.6 1595.7 2008.8 1598.2 2008.8C1600.7 2008.8 1603.1 2029.5 1605.6 2042.4C1608.1 2055.5 1610.6 2077.4 1613.1 2089C1615.3 2099.1 1617.4 2113.3 1619.6 2113.3C1621.8 2113.3 1623.9 2095.4 1626.1 2079.7C1628.6 2061.6 1631.1 2014.1 1633.6 1986.5C1636.1 1958.9 1638.6 1926.7 1641.1 1911.9C1643 1900.8 1644.8 1887.6 1646.7 1887.6C1649.8 1887.6 1652.9 1889.5 1656 1889.5C1659.1 1889.5 1662.2 1874.6 1665.3 1874.6C1667.2 1874.6 1669 1881.4 1670.9 1884C1672.6 1886.3 1674.3 1888.4 1676 1890" stroke="#F8540C" stroke-width="4.8"/>
<path d="M308.3 1474L308.3 1474L308.5 1775L308.5 1775C311.5 1788.2 314.4 1800.6 317.4 1812C320.5 1823.8 323.5 1836.3 326.6 1845C328.4 1850.1 330.2 1853.5 332 1858C335.1 1865.6 338.1 1873.3 341.2 1881.8C344.9 1892 348.5 1906.3 352.2 1914.7C354 1918.8 355.7 1922.2 357.5 1925L358.3 1745L358.3 1745C359.2 1725.3 360.1 1706.6 361 1700C362.2 1691.4 363.3 1687.3 364.5 1684C366 1679.8 367.5 1676.4 369 1675C371 1673.1 373 1671.5 375 1671.5C377 1671.5 379 1674.2 381 1676C384.8 1679.4 388.6 1684.2 392.4 1689.7C395.5 1694.1 398.5 1701.4 401.6 1706.2C404.6 1711 407.7 1717.7 410.7 1719C414.4 1720.6 418 1720.6 421.7 1721.8C425.4 1723 429 1724.3 432.7 1726.3C435.1 1727.7 437.6 1730.4 440 1732.3C448.3 1738.7 456.6 1744.1 464.9 1749.7C477.3 1758.1 489.8 1764.8 502.2 1774C508.1 1778.4 514.1 1784.6 520 1788.6C528.3 1794.1 536.6 1797.3 544.9 1802.3C553.2 1807.2 561.4 1812.4 569.7 1818.5C578 1824.6 586.3 1832.3 594.6 1839.6C602.9 1846.8 611.1 1855 619.4 1862C627.7 1869 636 1875.3 644.3 1881.9C650.5 1886.9 656.7 1892.1 662.9 1896.8C669.1 1901.6 675.4 1906.1 681.6 1910.5C687.8 1914.8 694 1921 700.2 1922.9C706.3 1924.8 712.3 1926.6 718.4 1926.6C725 1926.6 731.7 1923.9 738.3 1921.3C745.5 1918.4 752.8 1909.1 760 1903.7C763.3 1901.2 766.6 1898.6 769.9 1896.7C773.2 1894.7 776.6 1891.9 779.9 1891.7C784.2 1891.4 788.5 1891.3 792.8 1891.3C799.5 1891.3 806.2 1894.1 812.9 1896C818.6 1897.6 824.3 1899.6 830 1902C833.8 1903.6 837.7 1905 841.5 1907.7C845.8 1910.7 850.1 1917.9 854.4 1923.6C857.7 1928 861.1 1932.8 864.4 1938C867.9 1943.5 871.5 1950.8 875 1956C878.3 1960.9 881.7 1966 885 1969C888.2 1971.8 891.4 1975.5 894.6 1975.5C897.8 1975.5 900.9 1973.1 904.1 1971C907.4 1968.8 910.8 1964.1 914.1 1960C916 1957.6 918 1954.9 919.9 1952C923.9 1946 927.9 1936.3 931.9 1931.4C935.6 1926.8 939.4 1922.4 943.1 1920.5C946.8 1918.7 950.6 1916.8 954.3 1916.8C958 1916.8 961.7 1920.1 965.4 1923.1C970.4 1927 975.4 1937.5 980.4 1944.1C984.1 1949 987.8 1954.7 991.5 1958C994.6 1960.8 997.8 1964.6 1000.9 1964.6C1005.2 1964.6 1009.6 1962.2 1013.9 1960.2C1018.9 1957.8 1023.8 1952 1028.8 1947.9C1033.2 1944.3 1037.5 1937.4 1041.9 1937C1045.6 1936.7 1049.4 1936.4 1053.1 1936.4C1056.2 1936.4 1059.3 1945.2 1062.4 1950.7C1066.1 1957.3 1069.9 1968.7 1073.6 1974.6C1076.7 1979.5 1079.8 1986.5 1082.9 1986.5C1086 1986.5 1089.1 1984.2 1092.2 1982.3C1095.9 1980 1099.7 1974.1 1103.4 1970.7C1107.2 1967.1 1111.1 1962 1114.9 1961.1C1122.4 1959.4 1129.8 1958.5 1137.3 1958.5C1140.5 1958.5 1143.8 1967.5 1147 1970.5C1149 1972.3 1151 1974.2 1153 1975C1154.7 1975.7 1156.3 1976.5 1158 1976.5C1159.7 1976.5 1161.3 1975.7 1163 1975C1165.3 1974 1167.7 1970.8 1170 1969C1172.7 1967 1175.3 1965.1 1178 1963.5C1181.8 1961.2 1185.7 1957.6 1189.5 1957.6C1192.6 1957.6 1195.7 1971.2 1198.8 1979C1201.9 1986.9 1205.1 1996.1 1208.2 2005C1210.5 2011.5 1212.7 2021.3 1215 2025C1217.1 2028.4 1219.1 2032.1 1221.2 2032.1C1223.5 2032.1 1225.7 2026.9 1228 2022C1230.1 2017.5 1232.2 2003.5 1234.3 1998C1238 1988.3 1241.7 1979.7 1245.4 1977C1249.1 1974.3 1252.9 1972 1256.6 1972C1259.7 1972 1262.9 1977.4 1266 1983C1269.1 1988.5 1272.2 2005.8 1275.3 2017C1277.5 2025.1 1279.8 2036.8 1282 2041C1283.8 2044.4 1285.6 2048 1287.4 2048C1289.3 2048 1291.1 2041.5 1293 2038C1295.8 2032.7 1298.6 2023.5 1301.4 2021C1303.6 2019.1 1305.7 2017.2 1307.9 2017.2C1310.7 2017.2 1313.5 2021.2 1316.3 2025C1319.4 2029.2 1322.5 2040.6 1325.6 2050C1328.7 2059.4 1331.8 2072.8 1334.9 2082C1337.1 2088.5 1339.3 2099.3 1341.5 2099.3C1343.7 2099.3 1345.8 2090 1348 2084C1351.1 2075.4 1354.2 2059.6 1357.3 2052C1359.5 2046.5 1361.8 2040.7 1364 2039C1365.5 2037.9 1367 2036.8 1368.5 2036.8C1370.7 2036.8 1372.8 2039.9 1375 2043C1377.8 2047 1380.6 2058.1 1383.4 2068C1385.6 2075.8 1387.8 2088.4 1390 2096C1391.5 2101.3 1393.1 2106.7 1394.6 2109.5C1395.9 2112 1397.3 2115 1398.6 2115C1400.5 2115 1402.3 2109.1 1404.2 2103C1406.7 2094.9 1409.2 2064.4 1411.7 2047C1414.8 2025.5 1417.9 1997.3 1421 1987C1423.2 1979.8 1425.3 1972 1427.5 1972C1429.7 1972 1431.9 1985 1434.1 1989C1436.3 1992.9 1438.4 1998 1440.6 1998C1442.8 1998 1444.9 1990.4 1447.1 1985C1449.6 1978.8 1452.1 1965.1 1454.6 1960C1457.1 1954.9 1459.5 1952.4 1462 1949C1465.7 1943.9 1469.5 1942 1473.2 1935C1476.9 1928 1480.7 1906.1 1484.4 1893C1486.9 1884.2 1489.4 1872.2 1491.9 1868C1493.8 1864.9 1495.6 1861.5 1497.5 1861.5C1500.6 1861.5 1503.7 1870.6 1506.8 1878.3C1509.9 1886 1513 1906.8 1516.1 1915.6C1518.6 1922.7 1521.1 1932.4 1523.6 1932.4C1526.1 1932.4 1528.5 1921.9 1531 1915.6C1534.1 1907.6 1537.3 1888.3 1540.4 1887.6C1542.9 1887 1545.3 1886.7 1547.8 1886.7C1550.2 1886.7 1552.6 1888.2 1555 1890C1557.6 1891.9 1560.1 1898.7 1562.7 1904.4C1565.2 1910 1567.7 1914.8 1570.2 1925C1572.7 1935.2 1575.2 1973.8 1577.7 1985C1580.2 1996 1582.6 2003.3 1585.1 2008C1587 2011.6 1588.8 2016 1590.7 2016C1593.2 2016 1595.7 2012 1598.2 2012C1600.7 2012 1603.1 2033 1605.6 2046C1608.1 2059.1 1610.6 2080.5 1613.1 2092C1615.3 2101.9 1617.4 2116 1619.6 2116C1621.8 2116 1623.9 2098.5 1626.1 2083C1628.6 2065.2 1631.1 2017.5 1633.6 1990C1636.1 1962.5 1638.6 1930.2 1641.1 1916C1643 1905.4 1644.8 1893 1646.7 1893C1649.8 1893 1652.9 1893 1656 1893C1659.1 1893 1662.2 1880 1665.3 1880C1667.2 1880 1669 1885.8 1670.9 1888C1672.6 1890 1674.3 1891.7 1676 1893" stroke="#FFB000" stroke-width="4.8"/>
<path d="M308.3 1459L308.3 1459L309 1672L309 1672C309.7 1677.8 310.3 1683.7 311 1690C313.1 1710 315.3 1739.4 317.4 1753.8C320.5 1774.5 323.5 1786.5 326.6 1799.5C330.3 1815 333.9 1827.6 337.6 1839.7C341.2 1851.7 344.9 1861.1 348.5 1872.7C350.3 1878.5 352.2 1886.9 354 1891C355.2 1893.6 356.3 1895.7 357.5 1897L358.8 1765L358.8 1765C359.5 1751 360.3 1738.2 361 1730C362 1718.9 363 1709.8 364 1705C365.3 1698.6 366.7 1693.1 368 1692C370.2 1690.1 372.4 1689 374.6 1689C376.4 1689 378.2 1689.6 380 1690C383.9 1691 387.9 1692.1 391.8 1694.9C393.8 1696.3 395.7 1700.7 397.7 1704.6C399.2 1707.6 400.7 1713.1 402.2 1715.8C404.2 1719.4 406.2 1722.3 408.2 1724C410.7 1726.1 413.1 1727.3 415.6 1728.4C418.6 1729.7 421.6 1730.2 424.6 1731.4C426.6 1732.2 428.5 1733.1 430.5 1734.4C433.7 1736.5 436.8 1741.6 440 1745C448.5 1754.2 457.1 1763.8 465.6 1771.7C473.6 1779.2 481.7 1785.5 489.7 1792C496.5 1797.5 503.2 1802.3 510 1808C516.6 1813.6 523.3 1819.6 529.9 1825.9C534.9 1830.6 539.9 1835.9 544.9 1840.9C551.1 1847.1 557.3 1853.1 563.5 1859.5C569.7 1865.9 576 1872 582.2 1879.4C588.4 1886.7 594.6 1895.7 600.8 1904.2C607 1912.7 613.2 1921.5 619.4 1930.3C625.9 1939.6 632.4 1949.2 638.9 1958.5C647.2 1970.3 655.4 1982.4 663.7 1993.3C670.3 2002.1 677 2011.8 683.6 2018.2C687.8 2022.2 691.9 2026.3 696.1 2028.2C699.4 2029.7 702.7 2031.4 706 2031.4C709.3 2031.4 712.6 2029.8 715.9 2028.2C720.1 2026.1 724.2 2019.2 728.4 2013.2C733.4 2006 738.3 1995.4 743.3 1985.9C748.9 1975.2 754.4 1963.3 760 1952.4C763.3 1946 766.6 1938.8 769.9 1933.5C773.2 1928.1 776.6 1922.9 779.9 1919.6C783.2 1916.4 786.5 1913.1 789.8 1912.1C792.5 1911.3 795.1 1910.6 797.8 1910.6C802.5 1910.6 807.3 1911.9 812 1913C817.5 1914.3 823.1 1916.2 828.6 1919.6C830.6 1920.8 832.6 1923 834.6 1925.5C837.2 1928.8 839.9 1933.7 842.5 1939.5C844.8 1944.6 847.2 1952.4 849.5 1959.3C852.8 1969 856.1 1977.8 859.4 1990C861.2 1996.7 863 2007.1 864.8 2013.9C868.5 2027.9 872.2 2041.8 875.9 2049.4C878.7 2055.1 881.5 2062.4 884.3 2062.4C887.1 2062.4 889.9 2058.9 892.7 2054.9C895.8 2050.5 898.9 2033.8 902 2021.4C904.4 2012 906.7 1998.3 909.1 1990C912.7 1977.4 916.3 1966.8 919.9 1959.3C921.9 1955.1 924 1951.9 926 1949C929.2 1944.5 932.4 1939.5 935.6 1937.5C939.3 1935.2 943.1 1932.8 946.8 1932.8C949.9 1932.8 953 1935.9 956.1 1939.3C959.2 1942.7 962.3 1952.6 965.4 1961.7C968.5 1970.9 971.7 1985.2 974.8 1997.1C977.9 2008.9 981 2024.7 984.1 2032.6C987.2 2040.5 990.3 2050.3 993.4 2050.3C995.3 2050.3 997.1 2048 999 2045.6C1002.1 2041.6 1005.2 2021.6 1008.3 2010.2C1011.4 1998.6 1014.6 1984.6 1017.7 1976.6C1020.8 1968.7 1023.9 1960.9 1027 1958C1031.3 1954 1035.7 1950.5 1040 1950.5C1043.1 1950.5 1046.3 1953 1049.4 1956.1C1052.5 1959.2 1055.6 1971.4 1058.7 1982.2C1061.8 1993 1064.9 2011.8 1068 2025.1C1071.1 2038.4 1074.2 2056.8 1077.3 2062.4C1078.5 2064.6 1079.8 2067.1 1081 2067.1C1082.9 2067.1 1084.7 2062.9 1086.6 2058.7C1089.1 2053.1 1091.6 2032.4 1094.1 2021.4C1096.6 2010.4 1099.1 1998.5 1101.6 1991.6C1103.6 1986.2 1105.5 1981.6 1107.5 1979C1110.6 1974.9 1113.7 1970.6 1116.8 1970.6C1119.9 1970.6 1123 1971.8 1126.1 1973.4C1129.2 1975 1132.3 1985.1 1135.4 1993.9C1138.5 2002.8 1141.7 2020.5 1144.8 2031.2C1147.3 2039.6 1149.7 2051.6 1152.2 2053.6C1153.4 2054.6 1154.7 2055.5 1155.9 2055.5C1157.8 2055.5 1159.6 2048.2 1161.5 2042.4C1164 2034.6 1166.5 2014.9 1169 2005.1C1172.1 1992.9 1175.2 1979.9 1178.3 1975.3C1180.8 1971.6 1183.3 1967.8 1185.8 1967.8C1188.3 1967.8 1190.7 1970.4 1193.2 1973.4C1195.7 1976.5 1198.2 1987.5 1200.7 1997.7C1203.2 2007.9 1205.7 2024.9 1208.2 2038.7C1210.7 2052.3 1213.1 2069.9 1215.6 2079.7C1217.2 2085.9 1218.7 2094.6 1220.3 2094.6C1221.8 2094.6 1223.4 2089.7 1224.9 2085.3C1227.4 2078.1 1229.9 2054.9 1232.4 2042.4C1235.5 2026.9 1238.6 2010 1241.7 2001.4C1244.8 1992.8 1247.9 1985.7 1251 1982.7C1252.9 1980.9 1254.7 1979 1256.6 1979C1258.5 1979 1260.3 1982.7 1262.2 1986.5C1264.7 1991.6 1267.2 2009.9 1269.7 2023.8C1272.2 2037.5 1274.6 2058 1277.1 2070.4C1279.3 2081.5 1281.5 2098.3 1283.7 2098.3C1285.2 2098.3 1286.8 2092.4 1288.3 2087.1C1290.2 2080.6 1292 2062.2 1293.9 2051.7C1296.4 2037.7 1298.9 2021.5 1301.4 2014.4C1303.6 2008.3 1305.7 2001.4 1307.9 2001.4C1310.1 2001.4 1312.2 2006.1 1314.4 2010.7C1316.9 2016 1319.4 2031 1321.9 2042.4C1324.4 2053.8 1326.9 2067.5 1329.4 2079.7C1331.9 2091.7 1334.3 2108.3 1336.8 2115.1C1338.4 2119.4 1339.9 2124.5 1341.5 2124.5C1343 2124.5 1344.6 2118.9 1346.1 2113.3C1348 2106.5 1349.8 2081.1 1351.7 2070.4C1354.8 2052.7 1357.9 2038.5 1361 2029.4C1363.5 2022.1 1366 2012.6 1368.5 2012.6C1370.4 2012.6 1372.2 2018.1 1374.1 2023.8C1376 2029.5 1377.8 2049 1379.7 2061C1381.7 2073.7 1383.6 2087.9 1385.6 2098C1387.5 2107.6 1389.3 2122.6 1391.2 2122.6C1393.1 2122.6 1394.9 2120.4 1396.8 2117C1398.7 2113.6 1400.5 2073.8 1402.4 2061C1405.5 2039.7 1408.6 2023.3 1411.7 2014.4C1414.8 2005.5 1417.9 1995.8 1421 1995.8C1422.9 1995.8 1424.7 1998.2 1426.6 2001.4C1428.5 2004.6 1430.3 2025.3 1432.2 2033.1C1434.7 2043.5 1437.2 2057.3 1439.7 2057.3C1441.6 2057.3 1443.4 2043.1 1445.3 2033.1C1447.8 2019.9 1450.2 1983.8 1452.7 1979C1455.2 1974.1 1457.7 1970.6 1460.2 1970.6C1464.5 1970.6 1468.9 1970.6 1473.2 1970.6C1475.1 1970.6 1476.9 1977 1478.8 1980.9C1480.4 1984.2 1481.9 1992.1 1483.5 1992.1C1485.7 1992.1 1487.8 1983.1 1490 1973.4C1491.9 1965.1 1493.7 1933.9 1495.6 1921.2C1498.1 1904.2 1500.6 1882 1503.1 1882C1505.6 1882 1508 1885.7 1510.5 1889.5C1513.6 1894.2 1516.7 1908.6 1519.8 1921.2C1522.3 1931.4 1524.8 1948.3 1527.3 1958.5C1529.8 1968.7 1532.3 1984.6 1534.8 1984.6C1536.7 1984.6 1538.5 1975.5 1540.4 1967.8C1542.3 1960.1 1544.1 1938.3 1546 1930.5C1548.2 1921.4 1550.3 1910.9 1552.5 1910.9C1554.7 1910.9 1556.8 1917.3 1559 1923.1C1561.5 1929.7 1564 1945 1566.5 1958.5C1569 1971.8 1571.4 1988.5 1573.9 2005.1C1576.1 2019.6 1578.2 2044.6 1580.4 2051.7C1582.3 2057.8 1584.1 2063.8 1586 2063.8C1587.6 2063.8 1589.1 2050.5 1590.7 2042.4C1592.6 2032.8 1594.4 2008.8 1596.3 2008.8C1598.2 2008.8 1600 2016.6 1601.9 2023.8C1604.4 2033.4 1606.9 2062 1609.4 2079.7C1611.2 2092.7 1613.1 2105.8 1614.9 2117C1616.5 2126.5 1618 2143.1 1619.6 2143.1C1621.2 2143.1 1622.7 2129.1 1624.3 2117C1626.2 2102.5 1628 2065.4 1629.9 2042.4C1632.4 2012.1 1634.8 1973 1637.3 1958.5C1639.8 1943.8 1642.3 1928.7 1644.8 1928.7C1646.7 1928.7 1648.5 1931.3 1650.4 1934.3C1652.3 1937.3 1654.1 1950.1 1656 1958.5C1657.9 1966.9 1659.7 1984.6 1661.6 1984.6C1663.1 1984.6 1664.7 1981.2 1666.2 1977.1C1667.8 1972.9 1669.3 1947.4 1670.9 1939.8C1672.6 1931.5 1674.3 1924 1676 1922" stroke="#8E2A96" stroke-width="4.8"/>
<path d="M308.3 1461L308.3 1461L308.5 1778L308.5 1778C309.7 1783.1 310.8 1788.4 312 1794C315 1808.6 318.1 1827 321.1 1841C324.1 1855 327.2 1866.9 330.2 1879C332.7 1888.9 335.1 1900 337.6 1907.4C341.9 1920.2 346.1 1926.6 350.4 1938C352.5 1943.7 354.7 1952.5 356.8 1956.8C357 1957.3 357.3 1957.6 357.5 1958L358.6 1762L358.6 1762C359.2 1759.5 359.8 1753.2 360.4 1746.1C360.9 1740.2 361.4 1725.4 361.9 1719.9C362.9 1708.9 363.9 1700.9 364.9 1697.2C367.1 1689.1 369.4 1682.6 371.6 1682.6C373.1 1682.6 374.6 1684.9 376.1 1685.6C378.4 1686.6 380.7 1686.9 383 1687.9C385.9 1689.1 388.9 1690.3 391.8 1693C393.8 1694.8 395.7 1699.4 397.7 1704.2C399.2 1707.9 400.7 1715.8 402.2 1719.1C403.7 1722.4 405.2 1725 406.7 1726.6C408.9 1729 411.2 1730.8 413.4 1731.8C415.9 1732.9 418.3 1733.3 420.8 1734C423.3 1734.8 425.8 1735.2 428.3 1736.3C430.8 1737.4 433.3 1740.2 435.8 1742.2C439.5 1745.3 443.2 1749.2 446.9 1751.9C452.9 1756.4 458.9 1759.5 464.9 1763.4C477.3 1771.5 489.8 1779.4 502.2 1787.9C508.1 1792 514.1 1796.8 520 1800.7C528.3 1806.2 536.6 1810.5 544.9 1815.7C553.2 1820.8 561.4 1826.1 569.7 1831.9C578 1837.6 586.3 1843.8 594.6 1850.5C602.9 1857.1 611.1 1865.1 619.4 1871.7C627.7 1878.3 636 1884.1 644.3 1890.3C650.5 1894.9 656.7 1899.7 662.9 1904C669.1 1908.3 675.4 1912.7 681.6 1916.4C687.8 1920.1 694 1924.6 700.2 1926.3C706.3 1928 712.3 1929.7 718.4 1929.7C723.4 1929.7 728.3 1927.9 733.3 1926.2C739.9 1923.9 746.6 1916.1 753.2 1912.5C758.8 1909.4 764.3 1907.1 769.9 1904.8C774.9 1902.7 779.9 1899.2 784.9 1899.2C789.9 1899.2 794.8 1899.1 799.8 1899.1C804.8 1899.1 809.7 1901.7 814.7 1903.5C819.7 1905.3 824.6 1908 829.6 1910.4C834.6 1912.9 839.5 1914.9 844.5 1918.4C847.8 1920.7 851.1 1924.5 854.4 1928.2C857.7 1932 861.1 1936.6 864.4 1941.1C867.7 1945.5 871 1950.7 874.3 1955C877.6 1959.3 881 1964.6 884.3 1966.9C887.6 1969.2 890.9 1971.8 894.2 1971.8C897.5 1971.8 900.8 1970.4 904.1 1968.9C907.4 1967.3 910.8 1960.8 914.1 1956.8C916 1954.5 918 1952.5 919.9 1949.9C923.9 1944.5 927.9 1933.8 931.9 1930C935.6 1926.5 939.4 1923.6 943.1 1922.6C946.8 1921.6 950.6 1920.7 954.3 1920.7C958 1920.7 961.7 1923.8 965.4 1926.3C970.4 1929.7 975.4 1937.8 980.4 1943.1C984.1 1947 987.8 1951.6 991.5 1954.3C994.6 1956.6 997.8 1959.8 1000.9 1959.8C1005.2 1959.8 1009.6 1958.4 1013.9 1957.1C1018.9 1955.6 1023.8 1951.5 1028.8 1948.7C1033.2 1946.2 1037.5 1941.2 1041.9 1941.2C1045.6 1941.2 1049.4 1941.2 1053.1 1941.2C1056.2 1941.2 1059.3 1948.1 1062.4 1952.4C1066.1 1957.6 1069.9 1966.3 1073.6 1971C1076.7 1974.9 1079.8 1980.4 1082.9 1980.4C1086 1980.4 1089.1 1978.9 1092.2 1977.6C1095.9 1976 1099.7 1971.7 1103.4 1969.2C1107.2 1966.6 1111.1 1963.1 1114.9 1962.2C1122.4 1960.5 1129.8 1959.4 1137.3 1959.4C1143.5 1959.4 1149.7 1964.1 1155.9 1964.1C1162.1 1964.1 1168.4 1959.4 1174.6 1959.4C1179.6 1959.4 1184.5 1960.4 1189.5 1962.2C1192.6 1963.3 1195.7 1971 1198.8 1977.1C1201.9 1983.3 1205.1 1995.2 1208.2 2001.4C1211.3 2007.5 1214.4 2016.3 1217.5 2016.3C1220 2016.3 1222.4 2013.4 1224.9 2010.7C1228 2007.3 1231.2 1997.5 1234.3 1992.1C1238 1985.7 1241.7 1978.1 1245.4 1975.3C1249.1 1972.5 1252.9 1969.7 1256.6 1969.7C1259.7 1969.7 1262.9 1974.5 1266 1979C1269.1 1983.4 1272.2 1996.2 1275.3 2003.2C1278.4 2010.2 1281.5 2021.9 1284.6 2021.9C1287.1 2021.9 1289.6 2014 1292.1 2010.7C1295.2 2006.6 1298.3 2001.8 1301.4 1999.5C1303.6 1997.9 1305.7 1995.8 1307.9 1995.8C1310.7 1995.8 1313.5 1999.5 1316.3 2003.2C1319.4 2007.3 1322.5 2019.4 1325.6 2027.5C1328.7 2035.6 1331.8 2045.6 1334.9 2051.7C1337.4 2056.6 1339.9 2063.8 1342.4 2063.8C1344.9 2063.8 1347.4 2054.3 1349.9 2048C1353 2040.2 1356.1 2025.8 1359.2 2018.2C1361.7 2012.1 1364.1 2004.5 1366.6 2003.2C1368.5 2002.2 1370.3 2001.4 1372.2 2001.4C1374.7 2001.4 1377.2 2009 1379.7 2014.4C1382.8 2021.2 1385.9 2033.2 1389 2042.4C1393.1 2054.6 1397.2 2078.4 1401.3 2078.4C1404.4 2078.4 1407.5 2060.1 1410.6 2045.7C1413.7 2031.1 1416.9 1995.1 1420 1981.4C1422.5 1970.7 1424.9 1957.2 1427.4 1957.2C1429.9 1957.2 1432.4 1965.4 1434.9 1968.4C1437.4 1971.4 1439.8 1975.9 1442.3 1975.9C1445.4 1975.9 1448.6 1962 1451.7 1961C1455.4 1959.8 1459.1 1960.3 1462.8 1959.1C1466.5 1957.9 1470.3 1946.9 1474 1936.7C1477.7 1926.5 1481.5 1903.7 1485.2 1888.2C1488.3 1875.3 1491.4 1858.3 1494.5 1850.9C1497 1844.9 1499.5 1837.9 1502 1837.9C1504.5 1837.9 1507 1849.7 1509.5 1856.5C1512 1863.2 1514.4 1874 1516.9 1878.9C1519.4 1883.9 1521.9 1890.1 1524.4 1890.1C1527.5 1890.1 1530.6 1885.9 1533.7 1882.6C1536.2 1880 1538.7 1871.5 1541.2 1871.5C1544.9 1871.5 1548.6 1871.5 1552.3 1871.5C1554.8 1871.5 1557.3 1883.9 1559.8 1892C1562.9 1902 1566 1916.1 1569.1 1929.3C1572.2 1942.7 1575.4 1963.4 1578.5 1972.1C1581.6 1980.7 1584.7 1989.7 1587.8 1990.8C1590.9 1991.9 1594 1991.5 1597.1 1992.7C1600.2 1993.9 1603.3 2007.2 1606.4 2018.8C1608.9 2028.2 1611.4 2048.6 1613.9 2059.8C1616.4 2070.8 1618.8 2087.7 1621.3 2087.7C1623.8 2087.7 1626.3 2065.1 1628.8 2046.7C1631.3 2028.3 1633.8 1985.3 1636.3 1962.8C1638.8 1940.6 1641.2 1914 1643.7 1906.9C1645.6 1901.5 1647.4 1897.3 1649.3 1896.6C1652.4 1895.4 1655.5 1895.9 1658.6 1894.8C1661.1 1893.9 1663.6 1886.2 1666.1 1882.6C1668 1879.9 1669.8 1877.1 1671.7 1875.2C1673.4 1873.5 1675.1 1872 1676.8 1871" stroke="#5BAE1E" stroke-width="4.8"/>
<path d="M308.3 1463.2L308.3 1463.2L308.5 1775L308.5 1775C309.7 1779.9 310.8 1785 312 1790.4C315 1804.5 318.1 1822.6 321.1 1836.1C324.1 1849.6 327.2 1862.3 330.2 1872.7C333.3 1883.2 336.3 1891.8 339.4 1900.1C343.1 1910.1 346.7 1916.8 350.4 1927.5C352.5 1933.8 354.7 1944.2 356.8 1949.5C357 1950.1 357.3 1950.5 357.5 1951L358.6 1765L358.6 1765C359.2 1762.6 359.8 1756.3 360.4 1749.3C360.9 1743.4 361.4 1728.7 361.9 1723.2C362.9 1712.3 363.9 1704.3 364.9 1700.8C367.1 1692.9 369.4 1686.7 371.6 1686.7C373.1 1686.7 374.6 1689 376.1 1689.7C378.4 1690.7 380.7 1691 383 1692C385.9 1693.2 388.9 1694.4 391.8 1697.1C393.8 1698.9 395.7 1703.5 397.7 1708.3C399.2 1712 400.7 1719.9 402.2 1723.2C403.7 1726.5 405.2 1729.1 406.7 1730.7C408.9 1733.1 411.2 1734.9 413.4 1735.9C415.9 1737 418.3 1737.4 420.8 1738.1C423.3 1738.9 425.8 1739.3 428.3 1740.4C430.8 1741.5 433.3 1744.2 435.8 1746.3C439.5 1749.4 443.2 1753.2 446.9 1756C452.9 1760.5 458.9 1763.6 464.9 1767.5C477.3 1775.5 489.8 1783.4 502.2 1792C508.1 1796.1 514.1 1800.9 520 1804.8C528.3 1810.2 536.6 1814.5 544.9 1819.7C553.2 1824.9 561.4 1830.1 569.7 1835.9C578 1841.7 586.3 1847.9 594.6 1854.5C602.9 1861.1 611.1 1869.1 619.4 1875.7C627.7 1882.3 636 1888.1 644.3 1894.3C650.5 1898.9 656.7 1903.7 662.9 1908C669.1 1912.4 675.4 1916.7 681.6 1920.4C687.8 1924.1 694 1928.2 700.2 1930.3C706.3 1932.4 712.3 1934.9 718.4 1934.9C723.4 1934.9 728.3 1933.7 733.3 1932.4C739.9 1930.7 746.6 1923.7 753.2 1920C758.8 1916.9 764.3 1914.4 769.9 1911.6C774.9 1909.1 779.9 1904.2 784.9 1904.2C789.9 1904.2 794.8 1904.2 799.8 1904.2C804.8 1904.2 809.7 1906.8 814.7 1908.6C819.7 1910.4 824.6 1913.1 829.6 1915.6C834.6 1918.1 839.5 1920.1 844.5 1923.6C847.8 1926 851.1 1929.8 854.4 1933.5C857.7 1937.3 861.1 1941.9 864.4 1946.4C867.7 1950.8 871 1956 874.3 1960.3C877.6 1964.6 881 1970 884.3 1972.3C887.6 1974.6 890.9 1977.2 894.2 1977.2C897.5 1977.2 900.8 1975.9 904.1 1974.3C907.4 1972.7 910.8 1966.3 914.1 1962.3C916 1960 918 1958.1 919.9 1955.4C923.9 1949.9 927.9 1938.8 931.9 1935C935.6 1931.5 939.4 1928.6 943.1 1927.6C946.8 1926.6 950.6 1925.7 954.3 1925.7C958 1925.7 961.7 1928.8 965.4 1931.3C970.4 1934.8 975.4 1942.9 980.4 1948.2C984.1 1952.1 987.8 1956.7 991.5 1959.4C994.6 1961.7 997.8 1964.9 1000.9 1964.9C1005.2 1964.9 1009.6 1963.5 1013.9 1962.2C1018.9 1960.7 1023.8 1956.6 1028.8 1953.8C1033.2 1951.3 1037.5 1946.3 1041.9 1946.3C1045.6 1946.3 1049.4 1946.3 1053.1 1946.4C1056.2 1946.4 1059.3 1953.3 1062.4 1957.6C1066.1 1962.8 1069.9 1971.5 1073.6 1976.2C1076.7 1980.1 1079.8 1985.6 1082.9 1985.6C1086 1985.6 1089.1 1984.1 1092.2 1982.8C1095.9 1981.2 1099.7 1976.9 1103.4 1974.4C1107.2 1971.8 1111.1 1968.3 1114.9 1967.4C1122.4 1965.8 1129.8 1964.7 1137.3 1964.7C1143.5 1964.7 1149.7 1969.4 1155.9 1969.4C1162.1 1969.4 1168.4 1964.7 1174.6 1964.7C1179.6 1964.7 1184.5 1965.7 1189.5 1967.5C1192.6 1968.6 1195.7 1976.3 1198.8 1982.4C1201.9 1988.6 1205.1 2000.5 1208.2 2006.7C1211.3 2012.9 1214.4 2021.7 1217.5 2021.7C1220 2021.7 1222.4 2018.7 1224.9 2016.1C1228 2012.7 1231.2 2002.9 1234.3 1997.5C1238 1991.1 1241.7 1983.5 1245.4 1980.7C1249.1 1977.9 1252.9 1975.1 1256.6 1975.1C1259.7 1975.1 1262.9 1979.9 1266 1984.4C1269.1 1988.9 1272.2 2001.6 1275.3 2008.6C1278.4 2015.7 1281.5 2027.3 1284.6 2027.3C1287.1 2027.3 1289.6 2019.5 1292.1 2016.2C1295.2 2012 1298.3 2007.3 1301.4 2005C1303.6 2003.3 1305.7 2001.3 1307.9 2001.3C1310.7 2001.3 1313.5 2005 1316.3 2008.7C1319.4 2012.7 1322.5 2024.9 1325.6 2033C1328.7 2041.1 1331.8 2051.2 1334.9 2057.4C1337.4 2062.4 1339.9 2069.8 1342.4 2069.8C1344.9 2069.8 1347.4 2060.5 1349.9 2054.3C1353 2046.7 1356.1 2032.4 1359.2 2024.9C1361.7 2019 1364.1 2011.4 1366.6 2010.3C1368.5 2009.4 1370.3 2008.7 1372.2 2008.7C1374.7 2008.7 1377.2 2016.4 1379.7 2022C1382.8 2028.9 1385.9 2041 1389 2050.4C1392.8 2062.1 1396.7 2085.3 1400.5 2085.3C1403.6 2085.3 1406.7 2066.4 1409.8 2051.7C1412.9 2036.8 1416.1 2000.3 1419.2 1986.5C1421.7 1975.7 1424.1 1962.2 1426.6 1962.2C1429.1 1962.2 1431.6 1970.4 1434.1 1973.4C1436.6 1976.4 1439 1980.9 1441.5 1980.9C1444.6 1980.9 1447.8 1967 1450.9 1966C1454.6 1964.8 1458.3 1965.3 1462 1964.1C1465.7 1962.9 1469.5 1951.9 1473.2 1941.7C1476.9 1931.5 1480.7 1908.7 1484.4 1893.2C1487.5 1880.3 1490.6 1863.3 1493.7 1855.9C1496.2 1849.9 1498.7 1842.9 1501.2 1842.9C1503.7 1842.9 1506.2 1854.7 1508.7 1861.5C1511.2 1868.2 1513.6 1879 1516.1 1883.9C1518.6 1888.9 1521.1 1895.1 1523.6 1895.1C1526.7 1895.1 1529.8 1890.9 1532.9 1887.6C1535.4 1885 1537.9 1876.5 1540.4 1876.5C1544.1 1876.5 1547.8 1876.5 1551.5 1876.5C1554 1876.5 1556.5 1888.9 1559 1897C1562.1 1907 1565.2 1921.1 1568.3 1934.3C1571.4 1947.7 1574.6 1968.4 1577.7 1977.1C1580.8 1985.7 1583.9 1994.7 1587 1995.8C1590.1 1996.9 1593.2 1996.5 1596.3 1997.7C1599.4 1998.9 1602.5 2012.2 1605.6 2023.8C1608.1 2033.2 1610.6 2053.6 1613.1 2064.8C1615.6 2075.8 1618 2092.7 1620.5 2092.7C1623 2092.7 1625.5 2070.1 1628 2051.7C1630.5 2033.3 1633 1990.3 1635.5 1967.8C1638 1945.6 1640.4 1919 1642.9 1911.9C1644.8 1906.5 1646.6 1902.3 1648.5 1901.6C1651.6 1900.4 1654.7 1900.9 1657.8 1899.8C1660.3 1898.9 1662.8 1891.2 1665.3 1887.6C1667.2 1884.9 1669 1882.1 1670.9 1880.2C1672.6 1878.5 1674.3 1877 1676 1876" stroke="#10BCF0" stroke-width="4.8"/>
<path d="M308.3 1465L308.3 1465L308.5 1822L308.5 1822C310.3 1832.7 312 1843 313.8 1853C315 1859.8 316.2 1868.5 317.4 1872.7C320.5 1883.5 323.5 1890.3 326.6 1894.6C329.6 1898.9 332.7 1900.8 335.7 1903.8C337.5 1905.6 339.4 1906.9 341.2 1909C344.3 1912.5 347.3 1917.1 350.4 1923C352.5 1927.1 354.7 1935.4 356.8 1939C357 1939.4 357.3 1939.7 357.5 1940L358.3 1740L358.3 1740C359 1718.2 359.8 1697.7 360.5 1690C361.5 1679.9 362.4 1674.2 363.4 1671C364.5 1667.2 365.7 1663.6 366.8 1663.6C368.7 1663.6 370.5 1667.3 372.4 1670C374.9 1673.6 377.3 1680.3 379.8 1685C382.3 1689.8 384.8 1694.4 387.3 1698.5C389.3 1701.8 391.3 1703.6 393.3 1707.5C395 1710.9 396.8 1717.1 398.5 1722C400.2 1726.9 402 1733.8 403.7 1737C405.7 1740.7 407.7 1743.6 409.7 1745C412.2 1746.8 414.6 1747.8 417.1 1748.5C419.6 1749.2 422.1 1749.2 424.6 1750C427.1 1750.7 429.5 1752.6 432 1754.5C434.5 1756.4 437 1759.9 439.5 1762.5C443.2 1766.3 447 1770.3 450.7 1773.5C454.4 1776.7 458.2 1779.8 461.9 1782C467 1785 472.2 1786.4 477.3 1789C485.5 1793.1 493.8 1798.4 502 1803C508 1806.3 514 1809.6 520 1812.9C528.3 1817.5 536.6 1822.1 544.9 1826.6C553.2 1831 561.4 1835.2 569.7 1839.6C578 1844.1 586.3 1848.5 594.6 1853.3C602.9 1858 611.1 1863.5 619.4 1868.2C627.7 1873 636 1877.8 644.3 1881.9C652.6 1886 660.9 1889.6 669.2 1893.1C677.5 1896.6 685.7 1900.4 694 1903C698 1904.3 702 1906.3 706 1906.3C711.8 1906.3 717.6 1906.1 723.4 1905.8C730 1905.5 736.7 1900.8 743.3 1897.6C748.9 1894.9 754.4 1890.8 760 1887.8C763.3 1886 766.6 1883.9 769.9 1882.8C774.2 1881.4 778.6 1879.8 782.9 1879.8C786.9 1879.8 790.8 1880.9 794.8 1881.8C799.8 1883 804.7 1886.3 809.7 1887.8C816.3 1889.9 823 1890.8 829.6 1892.7C834.6 1894.1 839.5 1895.5 844.5 1897.7C849.5 1899.9 854.4 1903.7 859.4 1907.7C864.4 1911.7 869.3 1917.9 874.3 1922.6C877.9 1926.1 881.6 1930.7 885.2 1932.5C887.5 1933.7 889.9 1935 892.2 1935C894.5 1935 896.9 1933.7 899.2 1932.5C902.5 1930.8 905.8 1926 909.1 1921.6C912.7 1916.8 916.3 1908.4 919.9 1902.7C923.9 1896.3 927.9 1888.9 931.9 1885.3C935.6 1881.9 939.4 1878.3 943.1 1877.8C946.8 1877.3 950.6 1876.9 954.3 1876.9C958 1876.9 961.7 1880.1 965.4 1882.5C970.4 1885.7 975.4 1891.9 980.4 1896.4C984.7 1900.3 989.1 1904.2 993.4 1907.6C996.5 1910 999.6 1914.2 1002.7 1914.2C1006.4 1914.2 1010.2 1913.3 1013.9 1912.3C1018.9 1910.9 1023.8 1904 1028.8 1900.2C1033.2 1896.9 1037.5 1891.6 1041.9 1890.9C1045.6 1890.3 1049.4 1889.9 1053.1 1889.9C1056.2 1889.9 1059.3 1893.5 1062.4 1896.4C1066.1 1899.9 1069.9 1908.7 1073.6 1913.2C1076.1 1916.1 1078.5 1920.7 1081 1920.7C1083.5 1920.7 1086 1919.7 1088.5 1918.8C1093.5 1917 1098.4 1908.8 1103.4 1905.8C1108.5 1902.7 1113.5 1902 1118.6 1898.8C1123.6 1895.7 1128.6 1888.3 1133.6 1883.9C1136.7 1881.2 1139.8 1876.5 1142.9 1876.5C1146 1876.5 1149.1 1877.3 1152.2 1878.3C1155.9 1879.5 1159.7 1888.2 1163.4 1893.2C1167.1 1898.2 1170.9 1904.8 1174.6 1908.1C1178.3 1911.4 1182.1 1912.9 1185.8 1915.6C1188.3 1917.4 1190.7 1918.4 1193.2 1921.2C1195.7 1924 1198.2 1933.1 1200.7 1938C1203.2 1942.9 1205.7 1951 1208.2 1951C1210 1951 1211.9 1949.2 1213.7 1947.3C1216.2 1944.7 1218.7 1932.6 1221.2 1926.8C1224.3 1919.6 1227.4 1913.1 1230.5 1908.1C1234.2 1902.1 1238 1896.5 1241.7 1893.2C1245.4 1889.9 1249.2 1885.8 1252.9 1885.8C1255.4 1885.8 1257.9 1887.6 1260.4 1889.5C1263.5 1891.9 1266.6 1901.9 1269.7 1908.1C1272.2 1913.1 1274.6 1923.1 1277.1 1923.1C1279.6 1923.1 1282.1 1913.4 1284.6 1908.1C1287.1 1902.8 1289.6 1893.8 1292.1 1891.4C1295.2 1888.4 1298.3 1888.3 1301.4 1885.8C1303.6 1884.1 1305.7 1878.3 1307.9 1878.3C1310.1 1878.3 1312.2 1882.4 1314.4 1885.8C1317.5 1890.7 1320.7 1901.9 1323.8 1910C1326.9 1918 1330 1926.8 1333.1 1934.3C1335.6 1940.3 1338 1951 1340.5 1951C1343 1951 1345.5 1941.4 1348 1934.3C1351.1 1925.5 1354.2 1910.1 1357.3 1897C1359.8 1886.4 1362.3 1869.8 1364.8 1863.4C1366.7 1858.6 1368.5 1853.1 1370.4 1853.1C1372.3 1853.1 1374.1 1856.5 1376 1859.7C1378.5 1864 1380.9 1875.7 1383.4 1885.8C1385.4 1893.8 1387.3 1905 1389.3 1913.9C1391.5 1924 1393.8 1934.4 1396 1942.7C1397.8 1949.4 1399.6 1960.5 1401.4 1960.5C1402.8 1960.5 1404.1 1956.4 1405.5 1952.7C1406.9 1948.9 1408.4 1940.2 1409.8 1932.5C1412.9 1915.7 1416.1 1885.2 1419.2 1871C1421.7 1859.9 1424.1 1844.9 1426.6 1844.9C1429.1 1844.9 1431.6 1852.3 1434.1 1858.1C1437.2 1865.1 1440.3 1883.6 1443.4 1889.8C1446.5 1895.9 1449.6 1897.7 1452.7 1902.8C1456.4 1908.9 1460.2 1925.2 1463.9 1925.2C1467 1925.2 1470.1 1916.8 1473.2 1908.4C1476.3 1899.9 1479.5 1871.9 1482.6 1858.1C1485.1 1847.2 1487.5 1833.3 1490 1830.1C1492.8 1826.5 1495.6 1823.6 1498.4 1823.6C1501.2 1823.6 1504 1830.7 1506.8 1837.6C1509.3 1843.8 1511.8 1861.8 1514.3 1873C1517.1 1885.4 1519.8 1908.4 1522.6 1908.4C1525.4 1908.4 1528.2 1894.8 1531 1886.1C1533.5 1878.3 1536 1861.3 1538.5 1858.2C1541 1855.1 1543.5 1852.6 1546 1852.6C1548.2 1852.6 1550.3 1852.6 1552.5 1852.6C1555.3 1852.6 1558.1 1866.6 1560.9 1873.1C1564 1880.3 1567.1 1890.6 1570.2 1893.6C1572.7 1896 1575.2 1898.3 1577.7 1898.3C1580.8 1898.3 1583.9 1893.5 1587 1889.9C1589.8 1886.7 1592.6 1876.8 1595.4 1876.8C1598.2 1876.8 1601 1883.5 1603.8 1889.9C1606.9 1897 1610 1918.8 1613.1 1930.9C1615.9 1941.9 1618.7 1960.7 1621.5 1960.7C1624.3 1960.7 1627.1 1939.2 1629.9 1923.5C1632.4 1909.6 1634.8 1876.8 1637.3 1867.6C1639.8 1858.2 1642.3 1848.9 1644.8 1848.9C1647.9 1848.9 1651 1858.3 1654.1 1858.3C1657.2 1858.3 1660.3 1847.1 1663.4 1847.1C1665.9 1847.1 1668.4 1851.7 1670.9 1854.5C1672.6 1856.4 1674.3 1858.6 1676 1861" stroke="#BC0A2E" stroke-width="4.8"/>
<path d="M308.3 1464L308.3 1464L308.5 1814L308.5 1814C310.3 1824.9 312 1835 313.8 1843C316.2 1854 318.7 1864 321.1 1870.5C324.1 1878.6 327.2 1884.1 330.2 1889C333.9 1894.9 337.5 1898.2 341.2 1903.5C344.3 1907.9 347.3 1911.9 350.4 1918C352.5 1922.2 354.7 1929.6 356.8 1934.5C357 1935 357.3 1935.5 357.5 1936L358.3 1745L358.3 1745C359 1723.1 359.8 1702.4 360.5 1694.6C361.5 1684.3 362.4 1678.5 363.4 1675.1C364.5 1671.2 365.7 1667.2 366.8 1667.2C368.7 1667.2 370.5 1670.9 372.4 1673.6C374.9 1677.1 377.3 1683.8 379.8 1688.5C382.3 1693.3 384.8 1697.9 387.3 1702C389.3 1705.2 391.3 1707 393.3 1711C395 1714.4 396.8 1720.5 398.5 1725.4C400.2 1730.3 402 1737.2 403.7 1740.4C405.7 1744.1 407.7 1747 409.7 1748.4C412.2 1750.1 414.6 1751.1 417.1 1751.8C419.6 1752.5 422.1 1752.5 424.6 1753.3C427.1 1754 429.5 1755.8 432 1757.7C434.5 1759.7 437 1763.1 439.5 1765.7C443.2 1769.5 447 1773.6 450.7 1776.8C454.4 1780.1 458.2 1783.3 461.9 1785.5C467 1788.5 472.2 1790.1 477.3 1792.7C485.5 1796.9 493.8 1802.3 502 1807.1C508 1810.5 514 1813.9 520 1817.2C528.3 1821.8 536.6 1826.5 544.9 1830.9C553.2 1835.4 561.4 1839.5 569.7 1843.9C578 1848.4 586.3 1852.9 594.6 1857.6C602.9 1862.4 611.1 1867.8 619.4 1872.5C627.7 1877.3 636 1882.1 644.3 1886.3C652.6 1890.4 660.9 1893.9 669.2 1897.5C677.5 1901 685.7 1904.7 694 1907.4C698 1908.6 702 1910.7 706 1910.7C711.8 1910.7 717.6 1910.5 723.4 1910.2C730 1909.8 736.7 1905.2 743.3 1902C748.9 1899.3 754.4 1895.2 760 1892.2C763.3 1890.4 766.6 1888.3 769.9 1887.2C774.2 1885.8 778.6 1884.2 782.9 1884.2C786.9 1884.2 790.8 1885.3 794.8 1886.2C799.8 1887.4 804.7 1890.7 809.7 1892.2C816.3 1894.3 823 1895.2 829.6 1897.1C834.6 1898.5 839.5 1899.9 844.5 1902.1C849.5 1904.3 854.4 1908.1 859.4 1912.1C864.4 1916.1 869.3 1922.3 874.3 1927C877.9 1930.5 881.6 1935.1 885.2 1936.9C887.5 1938.1 889.9 1939.4 892.2 1939.4C894.5 1939.4 896.9 1938.1 899.2 1936.9C902.5 1935.2 905.8 1930.4 909.1 1926C912.7 1921.2 916.3 1912.8 919.9 1907.1C923.9 1900.7 927.9 1893.3 931.9 1889.7C935.6 1886.3 939.4 1882.7 943.1 1882.2C946.8 1881.7 950.6 1881.3 954.3 1881.3C958 1881.3 961.7 1884.5 965.4 1886.9C970.4 1890.1 975.4 1896.3 980.4 1900.8C984.7 1904.7 989.1 1908.6 993.4 1912C996.5 1914.4 999.6 1918.6 1002.7 1918.6C1006.4 1918.6 1010.2 1917.7 1013.9 1916.7C1018.9 1915.3 1023.8 1908.4 1028.8 1904.6C1033.2 1901.3 1037.5 1896 1041.9 1895.3C1045.6 1894.7 1049.4 1894.3 1053.1 1894.3C1056.2 1894.3 1059.3 1897.9 1062.4 1900.8C1066.1 1904.3 1069.9 1913.1 1073.6 1917.6C1076.1 1920.5 1078.5 1925.1 1081 1925.1C1083.5 1925.1 1086 1924.1 1088.5 1923.2C1093.5 1921.4 1098.4 1913.2 1103.4 1910.2C1108.5 1907.1 1113.5 1906.4 1118.6 1903.2C1123.6 1900.1 1128.6 1892.7 1133.6 1888.3C1136.7 1885.6 1139.8 1880.9 1142.9 1880.9C1146 1880.9 1149.1 1881.7 1152.2 1882.7C1155.9 1883.9 1159.7 1892.6 1163.4 1897.6C1167.1 1902.6 1170.9 1909.2 1174.6 1912.5C1178.3 1915.8 1182.1 1917.3 1185.8 1920C1188.3 1921.8 1190.7 1922.8 1193.2 1925.6C1195.7 1928.4 1198.2 1937.5 1200.7 1942.4C1203.2 1947.3 1205.7 1955.4 1208.2 1955.4C1210 1955.4 1211.9 1953.6 1213.7 1951.7C1216.2 1949.1 1218.7 1937 1221.2 1931.2C1224.3 1924 1227.4 1917.5 1230.5 1912.5C1234.2 1906.5 1238 1900.9 1241.7 1897.6C1245.4 1894.3 1249.2 1890.2 1252.9 1890.2C1255.4 1890.2 1257.9 1892 1260.4 1893.9C1263.5 1896.3 1266.6 1906.3 1269.7 1912.5C1272.2 1917.5 1274.6 1927.5 1277.1 1927.5C1279.6 1927.5 1282.1 1917.8 1284.6 1912.5C1287.1 1907.2 1289.6 1898.2 1292.1 1895.8C1295.2 1892.8 1298.3 1892.7 1301.4 1890.2C1303.6 1888.5 1305.7 1882.7 1307.9 1882.7C1310.1 1882.7 1312.2 1886.8 1314.4 1890.2C1317.5 1895.1 1320.7 1906.3 1323.8 1914.4C1326.9 1922.4 1330 1931.2 1333.1 1938.7C1335.6 1944.7 1338 1955.4 1340.5 1955.4C1343 1955.4 1345.5 1945.8 1348 1938.7C1351.1 1929.9 1354.2 1914.5 1357.3 1901.4C1359.8 1890.8 1362.3 1874.2 1364.8 1867.8C1366.7 1863 1368.5 1857.5 1370.4 1857.5C1372.3 1857.5 1374.1 1860.9 1376 1864.1C1378.5 1868.4 1380.9 1880.1 1383.4 1890.2C1385.4 1898.2 1387.3 1909.4 1389.3 1918.3C1391.5 1928.4 1393.8 1938.8 1396 1947.1C1397.8 1953.8 1399.6 1964.9 1401.4 1964.9C1402.8 1964.9 1404.1 1960.8 1405.5 1957.1C1406.9 1953.2 1408.4 1944.6 1409.8 1936.9C1412.9 1920.1 1416.1 1889.6 1419.2 1875.4C1421.7 1864.2 1424.1 1849.3 1426.6 1849.3C1429.1 1849.3 1431.6 1856.7 1434.1 1862.4C1437.2 1869.5 1440.3 1888 1443.4 1894.1C1446.5 1900.3 1449.6 1902 1452.7 1907.1C1456.4 1913.2 1460.2 1929.5 1463.9 1929.5C1467 1929.5 1470.1 1921.1 1473.2 1912.7C1476.3 1904.3 1479.5 1876.2 1482.6 1862.4C1485.1 1851.6 1487.5 1837.7 1490 1834.4C1492.8 1830.8 1495.6 1827.9 1498.4 1827.9C1501.2 1827.9 1504 1835 1506.8 1841.9C1509.3 1848.2 1511.8 1866.1 1514.3 1877.3C1517.1 1889.8 1519.8 1912.7 1522.6 1912.7C1525.4 1912.7 1528.2 1899.1 1531 1890.4C1533.5 1882.6 1536 1865.6 1538.5 1862.5C1541 1859.3 1543.5 1856.9 1546 1856.9C1548.2 1856.9 1550.3 1856.9 1552.5 1856.9C1555.3 1856.9 1558.1 1870.9 1560.9 1877.4C1564 1884.5 1567.1 1894.9 1570.2 1897.9C1572.7 1900.3 1575.2 1902.6 1577.7 1902.6C1580.8 1902.6 1583.9 1897.7 1587 1894.2C1589.8 1891 1592.6 1881.1 1595.4 1881.1C1598.2 1881.1 1601 1887.8 1603.8 1894.2C1606.9 1901.3 1610 1923 1613.1 1935.2C1615.9 1946.2 1618.7 1965 1621.5 1965C1624.3 1965 1627.1 1943.4 1629.9 1927.7C1632.4 1913.8 1634.8 1881 1637.3 1871.8C1639.8 1862.4 1642.3 1853.1 1644.8 1853.1C1647.9 1853.1 1651 1862.5 1654.1 1862.5C1657.2 1862.5 1660.3 1851.3 1663.4 1851.3C1665.9 1851.3 1668.4 1855.9 1670.9 1858.7C1672.6 1860.6 1674.3 1862.8 1676 1865.2" stroke="#0070C0" stroke-width="4.8"/>
<path d="M308.3 1467.9L308.3 1467.9L308.5 1816L308.5 1816C310.3 1827 312 1837.2 313.8 1845.2C316.2 1856.2 318.7 1866.2 321.1 1872.7C324.1 1880.7 327.2 1886.1 330.2 1891C333.9 1896.9 337.5 1900.3 341.2 1905.6C344.3 1910 347.3 1914.1 350.4 1920.2C352.5 1924.5 354.7 1932.3 356.8 1936.7C357 1937.2 357.3 1937.6 357.5 1938L358.3 1747.9L358.3 1747.9C359 1726 359.8 1705.3 360.5 1697.4C361.5 1687.1 362.4 1681.2 363.4 1677.8C364.5 1673.7 365.7 1669.6 366.8 1669.6C368.7 1669.6 370.5 1673.2 372.4 1675.9C374.9 1679.4 377.3 1686.1 379.8 1690.7C382.3 1695.4 384.8 1700.1 387.3 1704.1C389.3 1707.3 391.3 1709.1 393.3 1713C395 1716.3 396.8 1722.5 398.5 1727.4C400.2 1732.2 402 1739.1 403.7 1742.2C405.7 1745.9 407.7 1748.8 409.7 1750.1C412.2 1751.8 414.6 1752.8 417.1 1753.5C419.6 1754.1 422.1 1754.1 424.6 1754.8C427.1 1755.5 429.5 1757.3 432 1759.2C434.5 1761 437 1764.4 439.5 1767C443.2 1770.8 447 1775 450.7 1778.3C454.4 1781.6 458.2 1784.8 461.9 1787C467 1790.1 472.2 1791.7 477.3 1794.4C485.5 1798.8 493.8 1804.3 502 1809C508 1812.5 514 1816 520 1819.4C528.3 1824.1 536.6 1828.6 544.9 1833.1C553.2 1837.5 561.4 1841.7 569.7 1846.1C578 1850.6 586.3 1855 594.6 1859.8C602.9 1864.5 611.1 1870 619.4 1874.7C627.7 1879.5 636 1884.3 644.3 1888.4C652.6 1892.5 660.9 1896.1 669.2 1899.6C677.5 1903.1 685.7 1906.9 694 1909.5C698 1910.8 702 1912.8 706 1912.8C711.8 1912.8 717.6 1912.6 723.4 1912.3C730 1912 736.7 1907.5 743.3 1904.4C748.9 1901.8 754.4 1897.8 760 1894.8C763.3 1893 766.6 1890.9 769.9 1889.8C774.2 1888.4 778.6 1886.8 782.9 1886.8C786.9 1886.8 790.8 1887.9 794.8 1888.8C799.8 1890 804.7 1893.3 809.7 1894.8C816.3 1896.9 823 1897.9 829.6 1899.8C834.6 1901.2 839.5 1902.5 844.5 1904.8C849.5 1907 854.4 1910.8 859.4 1914.8C864.4 1918.8 869.3 1925 874.3 1929.7C877.9 1933.2 881.6 1937.8 885.2 1939.6C887.5 1940.8 889.9 1942.1 892.2 1942.1C894.5 1942.1 896.9 1940.8 899.2 1939.6C902.5 1937.9 905.8 1933.2 909.1 1928.7C912.7 1923.9 916.3 1915.6 919.9 1909.8C923.9 1903.5 927.9 1896.1 931.9 1892.5C935.6 1889 939.4 1885.5 943.1 1885C946.8 1884.4 950.6 1884.1 954.3 1884.1C958 1884.1 961.7 1887.3 965.4 1889.7C970.4 1892.9 975.4 1899.1 980.4 1903.6C984.7 1907.5 989.1 1911.4 993.4 1914.8C996.5 1917.2 999.6 1921.4 1002.7 1921.4C1006.4 1921.4 1010.2 1920.5 1013.9 1919.5C1018.9 1918.2 1023.8 1911.2 1028.8 1907.4C1033.2 1904.1 1037.5 1898.8 1041.9 1898.1C1045.6 1897.6 1049.4 1897.2 1053.1 1897.2C1056.2 1897.2 1059.3 1900.7 1062.4 1903.7C1066.1 1907.2 1069.9 1916 1073.6 1920.5C1076.1 1923.4 1078.5 1928 1081 1928C1083.5 1928 1086 1927 1088.5 1926.1C1093.5 1924.3 1098.4 1916.1 1103.4 1913.1C1108.5 1910 1113.5 1909.3 1118.6 1906.1C1123.6 1903 1128.6 1895.6 1133.6 1891.2C1136.7 1888.5 1139.8 1883.8 1142.9 1883.8C1146 1883.8 1149.1 1884.6 1152.2 1885.6C1155.9 1886.8 1159.7 1895.5 1163.4 1900.5C1167.1 1905.5 1170.9 1912.1 1174.6 1915.4C1178.3 1918.7 1182.1 1920.2 1185.8 1922.9C1188.3 1924.7 1190.7 1925.7 1193.2 1928.5C1195.7 1931.3 1198.2 1940.4 1200.7 1945.3C1203.2 1950.2 1205.7 1958.3 1208.2 1958.3C1210 1958.3 1211.9 1956.5 1213.7 1954.6C1216.2 1952 1218.7 1939.9 1221.2 1934.1C1224.3 1926.9 1227.4 1920.4 1230.5 1915.4C1234.2 1909.4 1238 1903.8 1241.7 1900.5C1245.4 1897.2 1249.2 1893.1 1252.9 1893.1C1255.4 1893.1 1257.9 1894.9 1260.4 1896.8C1263.5 1899.2 1266.6 1909.2 1269.7 1915.4C1272.2 1920.4 1274.6 1930.4 1277.1 1930.4C1279.6 1930.4 1282.1 1920.7 1284.6 1915.4C1287.1 1910.1 1289.6 1901.1 1292.1 1898.7C1295.2 1895.7 1298.3 1895.6 1301.4 1893.1C1303.6 1891.4 1305.7 1885.6 1307.9 1885.6C1310.1 1885.6 1312.2 1889.7 1314.4 1893.1C1317.5 1898 1320.7 1909.2 1323.8 1917.3C1326.9 1925.3 1330 1934.1 1333.1 1941.6C1335.6 1947.6 1338 1958.3 1340.5 1958.3C1343 1958.3 1345.5 1948.7 1348 1941.6C1351.1 1932.8 1354.2 1917.4 1357.3 1904.3C1359.8 1893.7 1362.3 1877.1 1364.8 1870.7C1366.7 1865.9 1368.5 1860.4 1370.4 1860.4C1372.3 1860.4 1374.1 1863.8 1376 1867C1378.5 1871.3 1380.9 1883 1383.4 1893.1C1385.4 1901.1 1387.3 1912.3 1389.3 1921.2C1391.5 1931.3 1393.8 1941.7 1396 1950C1397.8 1956.7 1399.6 1967.8 1401.4 1967.8C1402.8 1967.8 1404.1 1963.7 1405.5 1960C1406.9 1956.1 1408.4 1947.5 1409.8 1939.8C1412.9 1923 1416.1 1892.5 1419.2 1878.3C1421.7 1867.1 1424.1 1852.2 1426.6 1852.2C1429.1 1852.2 1431.6 1859.6 1434.1 1865.3C1437.2 1872.4 1440.3 1890.9 1443.4 1897C1446.5 1903.1 1449.6 1904.9 1452.7 1910C1456.4 1916.1 1460.2 1932.4 1463.9 1932.4C1467 1932.4 1470.1 1924 1473.2 1915.6C1476.3 1907.1 1479.5 1879.1 1482.6 1865.3C1485.1 1854.4 1487.5 1840.5 1490 1837.3C1492.8 1833.7 1495.6 1830.8 1498.4 1830.8C1501.2 1830.8 1504 1837.8 1506.8 1844.8C1509.3 1851 1511.8 1869 1514.3 1880.2C1517.1 1892.6 1519.8 1915.6 1522.6 1915.6C1525.4 1915.6 1528.2 1901.9 1531 1893.2C1533.5 1885.4 1536 1868.4 1538.5 1865.3C1541 1862.2 1543.5 1859.7 1546 1859.7C1548.2 1859.7 1550.3 1859.7 1552.5 1859.7C1555.3 1859.7 1558.1 1873.7 1560.9 1880.2C1564 1887.4 1567.1 1897.7 1570.2 1900.7C1572.7 1903.1 1575.2 1905.4 1577.7 1905.4C1580.8 1905.4 1583.9 1900.6 1587 1897C1589.8 1893.8 1592.6 1883.9 1595.4 1883.9C1598.2 1883.9 1601 1890.6 1603.8 1897C1606.9 1904.1 1610 1925.8 1613.1 1938C1615.9 1949 1618.7 1967.8 1621.5 1967.8C1624.3 1967.8 1627.1 1946.2 1629.9 1930.5C1632.4 1916.6 1634.8 1883.9 1637.3 1874.6C1639.8 1865.2 1642.3 1855.9 1644.8 1855.9C1647.9 1855.9 1651 1865.3 1654.1 1865.3C1657.2 1865.3 1660.3 1854.1 1663.4 1854.1C1665.9 1854.1 1668.4 1858.7 1670.9 1861.5C1672.6 1863.4 1674.3 1865.6 1676 1868" stroke="#F8540C" stroke-width="4.8"/>
<path d="M308.3 1474.6L308.3 1474.6L308.5 1762.9L308.5 1762.9C311.5 1775.9 314.4 1788.1 317.4 1799.5C320.5 1811.2 323.5 1823.7 326.6 1832.4C330.3 1842.8 333.9 1850.1 337.6 1858C341.2 1865.9 344.9 1870.8 348.5 1880C351.3 1887 354 1900.3 356.8 1907.4C357 1908 357.3 1908.5 357.5 1909L358.3 1760L358.3 1760C359 1745.9 359.8 1732.4 360.5 1725C361.7 1713.2 362.8 1704.5 364 1700C365.6 1693.9 367.1 1687.9 368.7 1687.9C370.1 1687.9 371.6 1690.2 373 1692C375.8 1695.5 378.7 1703 381.5 1708C385.1 1714.5 388.8 1719.1 392.4 1726.3C395.5 1732.4 398.5 1742.9 401.6 1748.3C404.6 1753.7 407.7 1759.8 410.7 1761.1C415.6 1763.3 420.5 1762.8 425.4 1764.7C429 1766.1 432.7 1770.6 436.3 1773.9C440.9 1778.1 445.4 1783.6 450 1787.6C455 1792 459.9 1795.8 464.9 1799.4C477.3 1808.3 489.8 1815 502.2 1823C508.1 1826.8 514.1 1831.2 520 1834.6C528.3 1839.3 536.6 1842.6 544.9 1847.1C553.2 1851.6 561.4 1857 569.7 1862C578 1867 586.3 1872.1 594.6 1876.9C602.9 1881.6 611.1 1886.5 619.4 1890.6C627.7 1894.7 636 1898.1 644.3 1901.8C652.6 1905.5 660.9 1909.4 669.2 1912.9C677.5 1916.4 685.7 1920.5 694 1922.9C700.5 1924.8 707 1927.5 713.5 1927.5C721.7 1927.5 729.8 1925.8 738 1924C745.3 1922.4 752.7 1916.8 760 1913.6C763.3 1912.2 766.6 1910.5 769.9 1909.6C774.9 1908.3 779.9 1906.7 784.9 1906.7C789.9 1906.7 794.8 1909 799.8 1910.6C803.1 1911.7 806.4 1913.4 809.7 1914.6C814.7 1916.4 819.6 1918.3 824.6 1919.6C829.6 1920.8 834.5 1921.3 839.5 1922.6C844.5 1923.9 849.4 1925.8 854.4 1928.5C857.7 1930.3 861.1 1933.7 864.4 1936.5C867.7 1939.3 871 1942.8 874.3 1945.4C877.6 1948 881 1951.1 884.3 1952.4C886.6 1953.3 888.9 1954.4 891.2 1954.4C893.9 1954.4 896.5 1954 899.2 1953.4C902.5 1952.7 905.8 1948.1 909.1 1944.4C912.7 1940.4 916.3 1935 919.9 1928.5C921.4 1925.8 922.9 1920.8 924.4 1918.8C928.1 1913.7 931.9 1909.5 935.6 1908.6C940.6 1907.4 945.5 1906.7 950.5 1906.7C954.9 1906.7 959.2 1909.2 963.6 1911.4C968.6 1913.9 973.5 1920.4 978.5 1924.4C983.5 1928.4 988.4 1933.8 993.4 1935.6C997.1 1937 1000.9 1938.4 1004.6 1938.4C1009 1938.4 1013.3 1937.1 1017.7 1935.6C1022 1934.1 1026.4 1927.4 1030.7 1924.4C1035.1 1921.4 1039.4 1917 1043.8 1917C1047.5 1917 1051.2 1917 1054.9 1917C1058.6 1917 1062.4 1923.8 1066.1 1928.1C1069.2 1931.7 1072.4 1939.4 1075.5 1941.2C1078 1942.6 1080.4 1944 1082.9 1944C1086 1944 1089.1 1939.7 1092.2 1937.5C1097.2 1933.9 1102.2 1929.1 1107.2 1926.3C1111 1924.2 1114.8 1923.3 1118.6 1921.2C1123.6 1918.4 1128.6 1912.9 1133.6 1910C1136.7 1908.2 1139.8 1905.4 1142.9 1905.4C1146 1905.4 1149.1 1907.9 1152.2 1910C1155.9 1912.6 1159.7 1919.1 1163.4 1923.1C1167.1 1927.1 1170.9 1931.3 1174.6 1934.3C1178.3 1937.3 1182.1 1938.4 1185.8 1941.7C1189.5 1945 1193.3 1951.9 1197 1956.6C1200.1 1960.5 1203.2 1967.8 1206.3 1967.8C1208.2 1967.8 1210 1967.8 1211.9 1967.8C1214.4 1967.8 1216.8 1957.9 1219.3 1952.9C1223 1945.4 1226.8 1935.5 1230.5 1930.5C1234.2 1925.5 1238 1921.8 1241.7 1919.3C1245.4 1916.8 1249.2 1913.7 1252.9 1913.7C1256 1913.7 1259.1 1916.5 1262.2 1919.3C1265.3 1922.1 1268.4 1931.2 1271.5 1936.1C1273.7 1939.6 1275.9 1945.4 1278.1 1945.4C1280.3 1945.4 1282.4 1938.3 1284.6 1934.3C1287.7 1928.6 1290.8 1918 1293.9 1915.6C1296.4 1913.7 1298.9 1913.5 1301.4 1911.9C1303.6 1910.5 1305.7 1906.3 1307.9 1906.3C1310.1 1906.3 1312.2 1911.8 1314.4 1915.6C1317.5 1921.1 1320.7 1930.8 1323.8 1938C1326.9 1945.1 1330 1952.9 1333.1 1958.5C1335.9 1963.6 1338.7 1971.5 1341.5 1971.5C1343.7 1971.5 1345.8 1964.2 1348 1958.5C1351.1 1950.4 1354.2 1933.2 1357.3 1921.2C1359.8 1911.5 1362.3 1898.4 1364.8 1893.2C1366.7 1889.3 1368.5 1884.8 1370.4 1884.8C1372.3 1884.8 1374.1 1888.3 1376 1891.4C1379.1 1896.5 1382.2 1909.2 1385.3 1921.2C1387.3 1928.8 1389.2 1941.6 1391.2 1949.2C1394.3 1961.2 1397.4 1979 1400.5 1979C1403.6 1979 1406.7 1964.5 1409.8 1952.9C1412.9 1941.2 1416.1 1912.5 1419.2 1900.7C1421.7 1891.4 1424.1 1879.2 1426.6 1879.2C1429.1 1879.2 1431.6 1887.6 1434.1 1893.2C1437.2 1900.1 1440.3 1914.8 1443.4 1919.3C1445.9 1922.9 1448.4 1923.7 1450.9 1926.8C1454.6 1931.4 1458.3 1945.4 1462 1945.4C1465.1 1945.4 1468.3 1942.2 1471.4 1938C1474.5 1933.8 1477.6 1908.4 1480.7 1893.2C1483.8 1878 1486.9 1856.8 1490 1846.6C1492.5 1838.4 1495 1832.3 1497.5 1828C1499.4 1824.8 1501.2 1820.5 1503.1 1820.5C1505.6 1820.5 1508 1830.3 1510.5 1837.3C1513 1844.4 1515.5 1859.6 1518 1865.3C1521.1 1872.4 1524.2 1880.2 1527.3 1880.2C1529.8 1880.2 1532.3 1876.7 1534.8 1874.6C1537.9 1872 1541 1865.3 1544.1 1865.3C1546.6 1865.3 1549 1865.3 1551.5 1865.3C1554 1865.3 1556.5 1877.1 1559 1883.9C1562.1 1892.3 1565.2 1906.6 1568.3 1911.9C1571.4 1917.3 1574.6 1923.1 1577.7 1923.1C1580.8 1923.1 1583.9 1918.4 1587 1915.6C1589.8 1913.1 1592.6 1907.2 1595.4 1907.2C1598.2 1907.2 1601 1914.7 1603.8 1921.2C1606.9 1928.4 1610 1950 1613.1 1958.5C1615.9 1966.2 1618.7 1976.2 1621.5 1976.2C1624.3 1976.2 1627.1 1961.5 1629.9 1949.2C1632.4 1938.3 1634.8 1907.1 1637.3 1898.8C1639.8 1890.4 1642.3 1882 1644.8 1882C1647.9 1882 1651 1887.6 1654.1 1887.6C1657.2 1887.6 1660.3 1874.6 1663.4 1874.6C1665.9 1874.6 1668.4 1884.4 1670.9 1889.5C1672.6 1892.9 1674.3 1896.5 1676 1900" stroke="#FFB000" stroke-width="4.8"/>
</g>
<rect x="210.1" y="1325.5" width="1463.4" height="823.2" fill="none" stroke="#1e1e1e" stroke-width="4.2" stroke-linejoin="round"/>
<path d="M455.2 2148.7V2133.7M698.3 2148.7V2133.7M941.5 2148.7V2133.7M1186.2 2148.7V2133.7M1430.1 2148.7V2133.7" stroke="#1e1e1e" stroke-width="3.4" stroke-linecap="round" fill="none"/>
<path d="M210.1 1458H224.9M210.1 1599.3H224.9M210.1 1737.3H224.9M210.1 1871.5H224.9M210.1 2013H224.9" stroke="#1e1e1e" stroke-width="4.4" stroke-linecap="round" fill="none"/>
<text transform="translate(67,1864.5) rotate(-90)" font-family="'Liberation Serif','Times New Roman',serif" font-size="64" letter-spacing="-1.0" fill="#404040"><tspan font-style="italic">U</tspan> (p.u.)</text>
<rect x="829.5" y="1371.7" width="765.7" height="278.5" fill="#fff" stroke="#1a1a1a" stroke-width="3.2"/>
<g stroke-linecap="round" stroke-width="4" fill="none">
<path d="M870.1 1412.8H941.9" stroke="#0070C0"/>
<path d="M870.1 1478.4H941.9" stroke="#F8540C"/>
<path d="M870.1 1543.8H941.9" stroke="#FFB000"/>
<path d="M870.1 1609.2H941.9" stroke="#8E2A96"/>
<path d="M1122.4 1412.8H1194.7" stroke="#5BAE1E"/>
<path d="M1122.4 1478.4H1194.7" stroke="#10BCF0"/>
<path d="M1122.4 1543.8H1194.7" stroke="#BC0A2E"/>
<path d="M1122.4 1609.2H1194.7" stroke="#0070C0"/>
<path d="M1361.9 1412.8H1433.7" stroke="#F8540C"/>
<path d="M1361.9 1478.4H1433.7" stroke="#FFB000"/>
</g>
<path d="M570.9 1555V1690" stroke="#FF0000" stroke-width="6" stroke-linecap="round" fill="none"/>
<path d="M570.9 1732.1L545.3 1681.1Q570.9 1695 597 1681.1Z" fill="#FF0000"/>
<path d="M429.8 1744.8C430.8 1744.1 430.7 1744 432.8 1742.8C434.9 1741.6 433.8 1742.2 436.1 1741.1C438.4 1740 437.2 1740.5 439.7 1739.5C442.1 1738.6 440.8 1739 443.5 1738.2C446.1 1737.4 444.8 1737.8 447.6 1737.1C450.4 1736.4 449 1736.7 451.9 1736.2C454.9 1735.6 453.4 1735.9 456.5 1735.5C459.7 1735.1 458.1 1735.2 461.4 1735C464.6 1734.7 463 1734.8 466.4 1734.7C469.8 1734.6 468.1 1734.6 471.7 1734.7C475.2 1734.7 475.3 1734.8 477.1 1734.8M504.1 1738.3C505.3 1738.5 505.3 1738.5 507.9 1739.1C510.5 1739.6 509.2 1739.3 511.8 1739.9C514.4 1740.5 513.1 1740.2 515.7 1740.9C518.3 1741.5 517 1741.2 519.6 1741.9C522.3 1742.6 521 1742.3 523.6 1743C526.3 1743.8 525 1743.4 527.6 1744.2C530.3 1745 529 1744.6 531.7 1745.4C534.4 1746.3 533 1745.8 535.7 1746.7C538.5 1747.6 537.1 1747.2 539.8 1748.1C542.5 1749.1 541.2 1748.6 543.9 1749.6C546.7 1750.6 546.7 1750.6 548 1751.1M574 1762.2C575.3 1762.8 575.3 1762.8 577.9 1764.1C580.4 1765.3 579.1 1764.7 581.7 1766C584.2 1767.3 583 1766.6 585.5 1767.9C588 1769.3 586.7 1768.6 589.3 1769.9C591.8 1771.3 590.5 1770.6 593 1772C595.5 1773.4 594.3 1772.7 596.7 1774.1C599.2 1775.5 598 1774.8 600.4 1776.2C602.9 1777.6 601.7 1776.9 604.1 1778.4C606.5 1779.8 605.3 1779.1 607.7 1780.6C610.1 1782.1 608.9 1781.3 611.3 1782.8C613.7 1784.3 613.7 1784.3 614.8 1785.1M639 1802.4C640.2 1803.4 640.2 1803.4 642.6 1805.3C645 1807.3 643.8 1806.3 646.2 1808.3C648.5 1810.3 647.4 1809.3 649.6 1811.3C651.9 1813.3 650.8 1812.3 653 1814.3C655.2 1816.3 654.1 1815.3 656.3 1817.3C658.4 1819.3 657.3 1818.3 659.4 1820.3C661.5 1822.3 660.5 1821.3 662.5 1823.3C664.4 1825.3 663.5 1824.3 665.4 1826.4C667.3 1828.4 666.4 1827.4 668.2 1829.4C670 1831.4 669.1 1830.4 670.9 1832.4C672.7 1834.5 672.6 1834.5 673.5 1835.5M689.6 1859.3C690.8 1862.1 691.2 1862.3 693.3 1867.8C695.3 1873.3 694.5 1870.7 695.7 1875.9C696.9 1881.2 696.5 1878.6 696.8 1883.5C697 1888.5 697.1 1886.1 696.5 1890.6C695.8 1895.2 696.4 1893 694.9 1897.1C693.3 1901.3 694.3 1899.3 691.9 1903C689.5 1906.6 690.9 1904.9 687.6 1908.1C684.3 1911.2 686.2 1909.8 682.1 1912.4C678 1915 680.2 1913.9 675.3 1915.9C670.4 1918 673 1917.1 667.4 1918.6C661.8 1920.1 661.4 1919.8 658.4 1920.4M631.2 1920.8C629.8 1920.7 629.9 1920.7 627.2 1920.5C624.5 1920.2 625.8 1920.3 623.1 1920C620.3 1919.6 621.7 1919.8 618.9 1919.4C616.1 1919 617.5 1919.2 614.7 1918.7C611.8 1918.2 613.3 1918.5 610.4 1917.9C607.5 1917.3 608.9 1917.6 606 1917C603.1 1916.4 604.6 1916.7 601.6 1916C598.6 1915.3 600.1 1915.7 597.1 1914.9C594.1 1914.2 595.6 1914.6 592.6 1913.7C589.6 1912.9 591.1 1913.3 588.1 1912.4C585 1911.6 585 1911.5 583.5 1911.1M557.9 1901.9C556.5 1901.3 556.5 1901.3 553.9 1900.2C551.2 1899.1 552.5 1899.6 549.8 1898.5C547.1 1897.3 548.5 1897.9 545.8 1896.7C543.1 1895.4 544.5 1896.1 541.8 1894.8C539.1 1893.6 540.4 1894.2 537.8 1892.9C535.1 1891.6 536.4 1892.3 533.8 1890.9C531.1 1889.6 532.5 1890.3 529.8 1888.9C527.2 1887.6 528.5 1888.3 525.9 1886.9C523.3 1885.5 524.6 1886.2 522 1884.8C519.4 1883.3 520.7 1884.1 518.1 1882.6C515.5 1881.2 515.5 1881.1 514.2 1880.4M489.5 1864.6C488.2 1863.7 488.2 1863.7 485.6 1861.9C483.1 1860.1 484.4 1861 481.9 1859.2C479.4 1857.3 480.6 1858.3 478.2 1856.4C475.8 1854.5 477 1855.5 474.6 1853.6C472.2 1851.7 473.4 1852.6 471.1 1850.7C468.7 1848.8 469.9 1849.8 467.6 1847.9C465.4 1846 466.5 1846.9 464.3 1845C462.1 1843.1 463.1 1844 461 1842.1C458.9 1840.2 459.9 1841.1 457.8 1839.2C455.8 1837.3 456.8 1838.2 454.8 1836.3C452.8 1834.3 452.8 1834.3 451.8 1833.3M433 1811.3C432 1809.9 431.9 1809.9 430.1 1807.1C428.2 1804.2 429.1 1805.6 427.4 1802.8C425.8 1800 426.6 1801.4 425.1 1798.7C423.6 1795.9 424.3 1797.3 423 1794.6C421.7 1791.9 422.3 1793.2 421.2 1790.5C420.1 1787.9 420.6 1789.2 419.7 1786.6C418.8 1784 419.2 1785.3 418.5 1782.7C417.9 1780.2 418.2 1781.4 417.7 1779C417.2 1776.5 417.4 1777.7 417.1 1775.3C416.8 1772.9 416.9 1774.1 416.8 1771.8C416.7 1769.5 416.8 1769.5 416.8 1768.4" stroke="#FF0000" stroke-width="6.6" stroke-linecap="round" fill="none"/>
</g>
<g font-family="'Liberation Serif','Times New Roman',serif" text-anchor="middle">
<text x="155.6" y="62" font-size="64" fill="#404040">1.2</text>
<text x="151.6" y="198.4" font-size="64" fill="#404040">1</text>
<text x="154.1" y="339.8" font-size="64" fill="#404040">0.8</text>
<text x="154.2" y="475.2" font-size="64" fill="#404040">0.6</text>
<text x="153.7" y="612.2" font-size="64" fill="#404040">0.4</text>
<text x="154.7" y="753.6" font-size="64" fill="#404040">0.2</text>
<text x="152.1" y="889" font-size="64" fill="#404040">0</text>
<text x="228" y="959.6" font-size="64" fill="#404040">0</text>
<text x="460.6" y="959.6" font-size="64" fill="#404040">0.5</text>
<text x="710.3" y="958.8" font-size="64" fill="#404040">1</text>
<text x="953.3" y="958.6" font-size="64" fill="#404040">1.5</text>
<text x="1188" y="957.8" font-size="64" fill="#404040">2</text>
<text x="1437.1" y="957.2" font-size="64" fill="#404040">2.5</text>
<text x="1672.8" y="957.2" font-size="64" fill="#404040">3</text>
<text x="919.3" y="1037.9" font-size="66" fill="#000">t (s)</text>
<text x="918.3" y="1161.2" font-size="66" fill="#000">(a)</text>
<text x="1045.6" y="150.6" font-size="64" fill="#000">ML</text>
<text x="1046.1" y="215.8" font-size="64" fill="#000">JL</text>
<text x="1045" y="283.2" font-size="64" fill="#000">XL</text>
<text x="1040.2" y="347" font-size="64" fill="#000">JJ</text>
<text x="1285.4" y="150.8" font-size="64" fill="#000">DJ</text>
<text x="1289.3" y="216" font-size="64" fill="#000">JT</text>
<text x="1290.4" y="283.2" font-size="64" fill="#000">DL</text>
<text x="1285" y="347" font-size="64" fill="#000">LC</text>
<text x="1525.2" y="150.6" font-size="64" fill="#000">BD</text>
<text x="1523.7" y="216.2" font-size="64" fill="#000">JC</text>
<text x="147.5" y="1349.4" font-size="64" fill="#404040" letter-spacing="1.2">1.2</text>
<text x="141.3" y="1484.4" font-size="64" fill="#404040">1</text>
<text x="145.9" y="1624.6" font-size="64" fill="#404040" letter-spacing="1.2">0.8</text>
<text x="145.2" y="1760.4" font-size="64" fill="#404040" letter-spacing="1.2">0.6</text>
<text x="144.7" y="1896.4" font-size="64" fill="#404040" letter-spacing="1.2">0.4</text>
<text x="146" y="2036.6" font-size="64" fill="#404040" letter-spacing="1.2">0.2</text>
<text x="142.9" y="2172.2" font-size="64" fill="#404040">0</text>
<text x="210.3" y="2218.2" font-size="64" fill="#404040">0</text>
<text x="467.6" y="2219.2" font-size="64" fill="#404040" letter-spacing="0.6">0.5</text>
<text x="704.3" y="2217.8" font-size="64" fill="#404040">1</text>
<text x="955.1" y="2219" font-size="64" fill="#404040" letter-spacing="0.8">1.5</text>
<text x="1187.7" y="2218.6" font-size="64" fill="#404040">2</text>
<text x="1441" y="2219.4" font-size="64" fill="#404040" letter-spacing="0.6">2.5</text>
<text x="1677.4" y="2219.4" font-size="64" fill="#404040">3</text>
<text x="925.6" y="2284.8" font-size="66" fill="#404040">t (s)</text>
<text x="925.5" y="2406.3" font-size="66" fill="#000">(b)</text>
<text x="1030.1" y="1435.6" font-size="64" fill="#000">ML</text>
<text x="1030.3" y="1500.2" font-size="64" fill="#000">JL</text>
<text x="1028.8" y="1567.2" font-size="64" fill="#000">XL</text>
<text x="1025.9" y="1631" font-size="64" fill="#000">JJ</text>
<text x="1275.4" y="1436.6" font-size="64" fill="#000">DJ</text>
<text x="1279.3" y="1500.4" font-size="64" fill="#000">JT</text>
<text x="1280.4" y="1566.4" font-size="64" fill="#000">DL</text>
<text x="1275.5" y="1630.4" font-size="64" fill="#000">LC</text>
<text x="1520.4" y="1435.6" font-size="64" fill="#000">BD</text>
<text x="1520.1" y="1500.2" font-size="64" fill="#000">JC</text>
<text x="578.2" y="1515.8" font-size="64" fill="#000">Voltage drop</text>
</g>
</svg>
</body></html>
